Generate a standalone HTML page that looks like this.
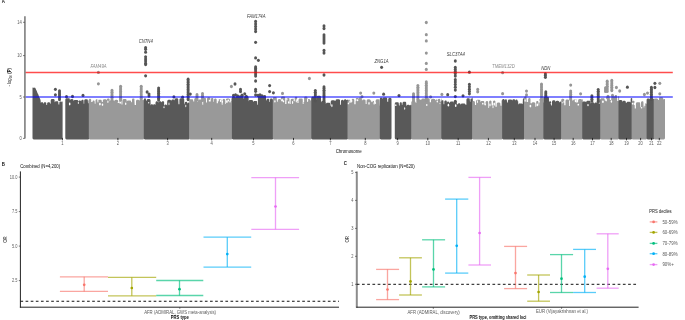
<!DOCTYPE html>
<html><head><meta charset="utf-8"><style>html,body{margin:0;padding:0;background:#fff;overflow:hidden}svg{display:block}</style></head><body>
<svg width="685" height="320" viewBox="0 0 685 320" font-family="Liberation Sans, sans-serif">
<defs><filter id="sb" x="-2%" y="-2%" width="104%" height="104%"><feGaussianBlur stdDeviation="0.32"/></filter></defs>
<rect width="685" height="320" fill="#fff"/>
<path d="M32.5,138.1 L32.5,87.69 L32.9,87.59 L33.3,87.89 L33.7,87.54 L34.1,87.82 L34.5,87.72 L34.9,87.53 L35.3,88.03 L35.7,88.65 L36.1,89.78 L36.5,90.46 L36.9,91.37 L37.3,92.47 L37.7,93.61 L38.1,94.09 L38.5,95.04 L38.9,96.18 L39.3,97.27 L39.7,97.95 L40.1,98.74 L40.5,99.99 L40.9,103.13 L41.2,102.39 L41.5,102.17 L41.8,102.07 L42.1,102.07 L42.4,102.15 L42.7,102.35 L43.0,102.84 L43.0,103.55 L43.5,103.55 L43.5,103.60 L43.8,102.73 L44.1,102.45 L44.4,102.29 L44.7,102.21 L45.0,102.20 L45.3,102.23 L45.6,102.32 L45.9,102.51 L46.2,102.84 L46.4,105.12 L47.1,105.12 L47.1,103.60 L47.4,102.73 L47.7,102.45 L48.0,102.29 L48.3,102.21 L48.6,102.20 L48.9,102.20 L49.2,102.25 L49.5,102.38 L49.8,102.60 L50.1,103.04 L50.2,103.82 L50.7,103.82 L50.7,100.43 L51.0,99.56 L51.3,99.28 L51.6,99.12 L51.9,99.04 L52.2,99.03 L52.5,99.03 L52.8,99.03 L53.1,99.03 L53.4,99.03 L53.7,99.07 L54.0,99.19 L54.3,99.41 L54.6,99.81 L54.7,102.61 L55.0,101.75 L55.3,101.46 L55.6,101.31 L55.9,101.23 L56.2,101.21 L56.5,101.21 L56.8,101.21 L57.1,101.21 L57.4,101.26 L57.7,101.37 L58.0,101.58 L58.3,101.97 L58.5,104.60 L59.3,104.60 L59.3,102.76 L59.6,101.90 L59.9,101.63 L60.2,101.47 L60.5,101.40 L60.8,101.40 L61.1,101.46 L61.4,101.61 L61.7,101.87 L62.0,102.46 L62.0,101.77 L62.3,101.50 L62.6,101.50 L62.6,138.1 Q62.6,139.4 61.3,139.4 L33.8,139.4 Q32.5,139.4 32.5,138.1 Z" fill="#595959"/>
<path d="M65.3,138.1 L65.3,99.59 L65.6,98.73 L65.9,98.44 L66.2,98.29 L66.5,98.21 L66.8,98.19 L67.1,98.19 L67.4,98.19 L67.7,98.19 L68.0,98.19 L68.3,98.19 L68.6,98.20 L68.9,98.25 L69.2,98.37 L69.5,98.60 L69.8,99.04 L69.9,100.51 L70.2,99.65 L70.5,99.36 L70.8,99.21 L71.1,99.13 L71.4,99.11 L71.7,99.11 L72.0,99.11 L72.3,99.12 L72.6,99.19 L72.9,99.33 L73.2,99.59 L73.5,100.15 L73.6,101.28 L73.9,100.42 L74.2,100.13 L74.5,99.97 L74.8,99.90 L75.1,99.88 L75.4,99.88 L75.7,99.88 L76.0,99.88 L76.3,99.88 L76.6,99.88 L76.9,99.89 L77.2,99.94 L77.5,100.07 L77.8,100.31 L78.1,100.78 L78.2,101.90 L78.5,101.04 L78.8,100.75 L79.1,100.60 L79.4,100.52 L79.7,100.50 L80.0,100.51 L80.3,100.57 L80.6,100.71 L80.9,100.95 L81.2,101.45 L81.2,100.95 L81.5,100.15 L81.8,99.90 L82.1,99.77 L82.4,99.73 L82.7,99.76 L83.0,99.87 L83.3,100.09 L83.6,100.60 L83.7,103.65 L84.2,103.65 L84.2,100.56 L84.5,99.69 L84.8,99.41 L85.1,99.25 L85.4,99.17 L85.7,99.16 L86.0,99.16 L86.3,99.16 L86.6,99.16 L86.9,99.20 L87.2,99.31 L87.5,99.51 L87.8,99.89 L88.0,103.31 L88.6,103.31 L88.6,100.66 L88.9,100.26 L89.2,100.29 L89.4,100.29 L89.4,138.1 Q89.4,139.4 88.1,139.4 L66.6,139.4 Q65.3,139.4 65.3,138.1 Z" fill="#595959"/>
<ellipse cx="69.7" cy="103.9" rx="0.80" ry="1.49" fill="#fff"/>
<ellipse cx="78.3" cy="102.9" rx="0.50" ry="1.03" fill="#fff"/>
<path d="M88.8,138.1 L88.8,99.98 L89.1,99.18 L89.4,98.93 L89.7,98.80 L90.0,98.76 L90.3,98.79 L90.6,98.91 L90.9,99.14 L91.2,99.69 L91.2,102.03 L92.5,102.03 L92.5,101.59 L92.8,100.82 L93.1,100.59 L93.4,100.49 L93.7,100.47 L94.0,100.53 L94.3,100.69 L94.6,101.02 L94.8,103.74 L95.5,103.74 L95.5,100.41 L95.8,99.64 L96.1,99.41 L96.4,99.30 L96.7,99.28 L97.0,99.34 L97.3,99.50 L97.6,99.83 L97.7,101.15 L98.0,100.28 L98.3,100.00 L98.6,99.84 L98.9,99.76 L99.2,99.75 L99.5,99.75 L99.8,99.75 L100.1,99.75 L100.4,99.75 L100.7,99.77 L101.0,99.85 L101.3,100.01 L101.6,100.30 L101.9,102.05 L102.8,102.05 L102.8,100.69 L103.1,99.83 L103.4,99.54 L103.7,99.38 L104.0,99.31 L104.3,99.29 L104.6,99.29 L104.9,99.29 L105.2,99.29 L105.5,99.30 L105.8,99.36 L106.1,99.49 L106.4,99.74 L106.7,100.24 L106.8,99.82 L107.1,98.96 L107.4,98.68 L107.7,98.52 L108.0,98.44 L108.3,98.42 L108.6,98.45 L108.9,98.53 L109.2,98.71 L109.5,99.01 L109.7,101.59 L110.0,100.72 L110.3,100.44 L110.6,100.28 L110.9,100.20 L111.2,100.19 L111.5,100.19 L111.8,100.19 L112.1,100.19 L112.4,100.19 L112.7,100.19 L113.0,100.21 L113.3,100.29 L113.6,100.46 L113.9,100.77 L114.2,101.27 L114.5,100.41 L114.8,100.12 L115.1,99.96 L115.4,99.89 L115.7,99.87 L116.0,99.87 L116.3,99.87 L116.6,99.87 L116.9,99.87 L117.2,99.91 L117.5,100.02 L117.8,100.21 L118.1,100.58 L118.3,102.90 L119.3,102.90 L119.3,99.01 L119.6,98.24 L119.9,98.01 L120.2,97.90 L120.5,97.88 L120.8,97.94 L121.1,98.10 L121.4,98.42 L121.6,104.42 L122.4,104.42 L122.4,100.45 L122.7,99.59 L123.0,99.30 L123.3,99.14 L123.6,99.07 L123.9,99.05 L124.2,99.05 L124.5,99.05 L124.8,99.05 L125.1,99.05 L125.4,99.05 L125.7,99.08 L126.0,99.19 L126.3,99.38 L126.6,99.73 L126.8,101.87 L127.1,101.01 L127.4,100.73 L127.7,100.57 L128.0,100.49 L128.3,100.47 L128.6,100.47 L128.9,100.47 L129.2,100.47 L129.5,100.47 L129.8,100.47 L130.1,100.49 L130.4,100.58 L130.7,100.74 L131.0,101.04 L131.3,102.32 L132.0,102.32 L132.0,99.70 L132.3,98.86 L132.6,98.59 L132.9,98.44 L133.2,98.38 L133.5,98.38 L133.8,98.46 L134.1,98.62 L134.4,98.92 L134.7,105.08 L136.0,105.08 L136.0,101.03 L136.3,100.16 L136.6,99.88 L136.9,99.72 L137.2,99.64 L137.5,99.63 L137.8,99.63 L138.1,99.64 L138.4,99.72 L138.7,99.88 L139.0,100.16 L139.3,100.94 L139.3,100.85 L139.6,100.05 L139.9,99.81 L140.2,99.69 L140.5,99.65 L140.8,99.69 L141.1,99.81 L141.4,100.06 L141.7,101.23 L142.0,100.39 L142.3,100.12 L142.6,99.97 L142.9,99.91 L143.2,99.91 L143.5,99.99 L143.8,100.15 L144.1,100.45 L144.3,100.45 L144.3,138.1 Q144.3,139.4 143.0,139.4 L90.1,139.4 Q88.8,139.4 88.8,138.1 Z" fill="#999999"/>
<ellipse cx="97.9" cy="101.1" rx="0.52" ry="1.51" fill="#fff"/>
<ellipse cx="99.9" cy="104.1" rx="0.89" ry="1.29" fill="#fff"/>
<ellipse cx="102.5" cy="104.7" rx="0.74" ry="1.17" fill="#fff"/>
<ellipse cx="107.9" cy="101.8" rx="0.56" ry="1.23" fill="#fff"/>
<ellipse cx="118.2" cy="102.4" rx="0.53" ry="0.70" fill="#fff"/>
<ellipse cx="120.2" cy="102.6" rx="0.78" ry="1.20" fill="#fff"/>
<ellipse cx="125.7" cy="103.8" rx="0.68" ry="1.21" fill="#fff"/>
<path d="M143.8,138.1 L143.8,99.54 L144.1,98.76 L144.4,98.51 L144.7,98.40 L145.0,98.36 L145.3,98.40 L145.6,98.54 L145.9,98.80 L146.1,100.72 L146.6,100.72 L146.6,100.44 L146.9,99.58 L147.2,99.29 L147.5,99.13 L147.8,99.06 L148.1,99.04 L148.4,99.04 L148.7,99.04 L149.0,99.04 L149.3,99.05 L149.6,99.10 L149.9,99.23 L150.2,99.45 L150.5,99.90 L150.6,105.43 L150.9,104.63 L151.2,104.37 L151.5,104.25 L151.8,104.20 L152.1,104.23 L152.4,104.34 L152.7,104.56 L153.0,105.04 L153.1,105.41 L153.4,104.62 L153.7,104.37 L154.0,104.24 L154.3,104.20 L154.6,104.23 L154.9,104.35 L155.2,104.58 L155.5,105.15 L155.5,102.63 L155.8,101.79 L156.1,101.52 L156.4,101.37 L156.7,101.31 L157.0,101.31 L157.3,101.39 L157.6,101.55 L157.9,101.84 L158.2,102.70 L158.5,101.83 L158.8,101.55 L159.1,101.39 L159.4,101.31 L159.7,101.30 L160.0,101.30 L160.3,101.30 L160.6,101.34 L160.9,101.45 L161.2,101.66 L161.5,102.05 L161.7,102.38 L162.0,101.57 L162.3,101.31 L162.6,101.18 L162.9,101.14 L163.2,101.16 L163.5,101.27 L163.8,101.48 L164.1,101.93 L164.1,106.01 L164.4,105.14 L164.7,104.86 L165.0,104.70 L165.3,104.62 L165.6,104.61 L165.9,104.62 L166.2,104.69 L166.5,104.84 L166.8,105.12 L167.1,105.79 L167.2,101.25 L167.5,100.39 L167.8,100.10 L168.1,99.94 L168.4,99.87 L168.7,99.85 L169.0,99.85 L169.3,99.85 L169.6,99.85 L169.9,99.85 L170.2,99.87 L170.5,99.96 L170.8,100.13 L171.1,100.43 L171.3,100.80 L171.6,99.93 L171.9,99.65 L172.2,99.49 L172.5,99.41 L172.8,99.40 L173.1,99.40 L173.4,99.41 L173.7,99.48 L174.0,99.64 L174.3,99.91 L174.6,100.56 L174.6,99.73 L174.9,98.86 L175.2,98.58 L175.5,98.42 L175.8,98.34 L176.1,98.33 L176.4,98.33 L176.7,98.33 L177.0,98.33 L177.3,98.35 L177.6,98.43 L177.9,98.60 L178.2,98.90 L178.5,104.17 L179.4,104.17 L179.4,99.70 L179.7,98.83 L180.0,98.55 L180.3,98.39 L180.6,98.31 L180.9,98.30 L181.2,98.30 L181.5,98.30 L181.8,98.30 L182.1,98.30 L182.4,98.30 L182.7,98.30 L183.0,98.30 L183.3,98.35 L183.6,98.48 L183.9,98.71 L184.2,99.14 L184.3,104.14 L184.7,104.14 L184.7,103.20 L185.0,102.33 L185.3,102.05 L185.6,101.89 L185.9,101.81 L186.2,101.80 L186.5,101.86 L186.8,101.98 L187.1,102.21 L187.4,102.65 L187.6,103.69 L187.9,102.92 L188.2,102.69 L188.5,102.59 L188.8,102.57 L189.1,102.63 L189.4,102.79 L189.7,103.14 L189.8,103.14 L189.8,138.1 Q189.8,139.4 188.5,139.4 L145.1,139.4 Q143.8,139.4 143.8,138.1 Z" fill="#595959"/>
<ellipse cx="148.7" cy="102.7" rx="0.64" ry="0.77" fill="#fff"/>
<ellipse cx="164.0" cy="107.3" rx="0.59" ry="0.97" fill="#fff"/>
<ellipse cx="169.0" cy="103.9" rx="0.46" ry="1.36" fill="#fff"/>
<ellipse cx="185.8" cy="106.0" rx="0.48" ry="1.37" fill="#fff"/>
<path d="M189.2,138.1 L189.2,100.64 L189.5,99.77 L189.8,99.49 L190.1,99.33 L190.4,99.25 L190.7,99.24 L191.0,99.24 L191.3,99.24 L191.6,99.24 L191.9,99.24 L192.2,99.26 L192.5,99.36 L192.8,99.54 L193.1,99.86 L193.3,101.39 L194.2,101.39 L194.2,99.49 L194.5,98.62 L194.8,98.34 L195.1,98.18 L195.4,98.10 L195.7,98.09 L196.0,98.12 L196.3,98.23 L196.6,98.44 L196.9,98.81 L197.0,101.48 L198.0,101.48 L198.0,100.92 L198.3,100.06 L198.6,99.77 L198.9,99.62 L199.2,99.54 L199.5,99.52 L199.8,99.52 L200.1,99.52 L200.4,99.52 L200.7,99.52 L201.0,99.52 L201.3,99.55 L201.6,99.65 L201.9,99.84 L202.2,100.18 L202.4,104.65 L203.2,104.65 L203.2,99.20 L203.5,98.33 L203.8,98.05 L204.1,97.89 L204.4,97.81 L204.7,97.80 L205.0,97.83 L205.3,97.93 L205.6,98.12 L205.9,98.46 L206.1,102.44 L207.0,102.44 L207.0,98.76 L207.3,97.90 L207.6,97.61 L207.9,97.46 L208.2,97.38 L208.5,97.36 L208.8,97.36 L209.1,97.37 L209.4,97.43 L209.7,97.58 L210.0,97.83 L210.3,98.37 L210.4,101.49 L211.0,101.49 L211.0,99.12 L211.3,98.33 L211.6,98.08 L211.9,97.96 L212.2,97.92 L212.5,97.96 L212.8,98.08 L213.1,98.32 L213.4,99.00 L213.4,101.67 L214.0,101.67 L214.0,99.81 L214.3,98.95 L214.6,98.68 L214.9,98.52 L215.2,98.45 L215.5,98.45 L215.8,98.51 L216.1,98.65 L216.4,98.91 L216.7,99.50 L216.7,103.26 L217.9,103.26 L217.9,100.66 L218.2,99.80 L218.5,99.51 L218.8,99.35 L219.1,99.28 L219.4,99.26 L219.7,99.26 L220.0,99.26 L220.3,99.26 L220.6,99.28 L220.9,99.38 L221.2,99.55 L221.5,99.87 L221.8,104.73 L222.6,104.73 L222.6,100.10 L222.9,99.28 L223.2,99.02 L223.5,98.88 L223.8,98.83 L224.1,98.85 L224.4,98.94 L224.7,99.13 L225.0,99.51 L225.2,104.06 L225.8,104.06 L225.8,99.96 L226.1,99.09 L226.4,98.81 L226.7,98.65 L227.0,98.57 L227.3,98.56 L227.6,98.56 L227.9,98.56 L228.2,98.56 L228.5,98.56 L228.8,98.56 L229.1,98.63 L229.4,98.77 L229.7,99.03 L230.0,99.58 L230.1,100.93 L231.3,100.93 L231.3,98.80 L231.6,98.29 L231.9,98.21 L232.2,98.30 L232.5,98.30 L232.5,138.1 Q232.5,139.4 231.2,139.4 L190.5,139.4 Q189.2,139.4 189.2,138.1 Z" fill="#999999"/>
<ellipse cx="197.0" cy="100.2" rx="0.61" ry="0.79" fill="#fff"/>
<ellipse cx="209.5" cy="100.7" rx="0.78" ry="0.88" fill="#fff"/>
<ellipse cx="218.2" cy="100.2" rx="0.56" ry="1.37" fill="#fff"/>
<ellipse cx="220.6" cy="100.7" rx="0.75" ry="1.32" fill="#fff"/>
<ellipse cx="222.4" cy="101.8" rx="0.66" ry="1.12" fill="#fff"/>
<ellipse cx="226.9" cy="101.5" rx="0.82" ry="1.57" fill="#fff"/>
<ellipse cx="228.4" cy="100.5" rx="0.88" ry="0.89" fill="#fff"/>
<ellipse cx="230.1" cy="101.8" rx="0.88" ry="0.82" fill="#fff"/>
<path d="M231.9,138.1 L231.9,97.83 L232.2,96.96 L232.5,96.68 L232.8,96.52 L233.1,96.44 L233.4,96.43 L233.7,96.43 L234.0,96.43 L234.3,96.46 L234.6,96.55 L234.9,96.73 L235.2,97.07 L235.4,97.85 L235.7,97.00 L236.0,96.73 L236.3,96.58 L236.6,96.51 L236.9,96.51 L237.2,96.58 L237.5,96.73 L237.8,97.01 L238.1,96.35 L238.4,95.62 L238.7,95.41 L239.0,95.32 L239.3,95.32 L239.6,95.42 L239.9,95.64 L240.2,96.23 L240.5,95.37 L240.8,95.08 L241.1,94.93 L241.4,94.85 L241.7,94.83 L242.0,94.83 L242.3,94.84 L242.6,94.91 L242.9,95.05 L243.2,95.30 L243.5,95.85 L243.5,98.45 L244.1,98.45 L244.1,97.40 L244.4,96.53 L244.7,96.25 L245.0,96.09 L245.3,96.01 L245.6,96.00 L245.9,96.00 L246.2,96.00 L246.5,96.00 L246.8,96.00 L247.1,96.00 L247.4,96.01 L247.7,96.08 L248.0,96.24 L248.3,96.51 L248.6,97.16 L248.6,101.40 L248.9,100.53 L249.2,100.25 L249.5,100.09 L249.8,100.01 L250.1,100.00 L250.4,100.00 L250.7,100.00 L251.0,100.00 L251.3,100.00 L251.6,100.00 L251.9,100.01 L252.2,100.09 L252.5,100.24 L252.8,100.51 L253.1,101.18 L253.2,102.36 L253.5,101.50 L253.8,101.21 L254.1,101.06 L254.4,100.98 L254.7,100.96 L255.0,100.96 L255.3,100.96 L255.6,100.96 L255.9,100.96 L256.2,100.99 L256.5,101.08 L256.8,101.26 L257.1,101.58 L257.3,104.68 L257.9,104.68 L257.9,97.18 L258.2,96.31 L258.5,96.03 L258.8,95.87 L259.1,95.79 L259.4,95.78 L259.7,95.78 L260.0,95.78 L260.3,95.78 L260.6,95.78 L260.9,95.78 L261.2,95.78 L261.5,95.78 L261.8,95.81 L262.1,95.91 L262.4,96.11 L262.7,96.46 L262.9,96.64 L263.2,95.77 L263.5,95.49 L263.8,95.33 L264.1,95.25 L264.4,95.24 L264.7,95.24 L265.0,95.25 L265.3,95.34 L265.6,95.50 L265.9,95.79 L266.2,100.60 L266.6,100.60 L266.6,100.08 L266.9,99.22 L267.2,98.93 L267.5,98.78 L267.8,98.70 L268.1,98.68 L268.4,98.73 L268.7,98.84 L269.0,99.05 L269.3,99.44 L269.5,102.03 L270.0,102.03 L270.0,99.66 L270.3,98.84 L270.6,98.58 L270.9,98.44 L271.2,98.38 L271.5,98.40 L271.8,98.49 L272.1,98.67 L272.4,99.03 L272.6,99.54 L272.9,99.14 L273.2,99.17 L273.4,99.17 L273.4,138.1 Q273.4,139.4 272.1,139.4 L233.2,139.4 Q231.9,139.4 231.9,138.1 Z" fill="#595959"/>
<path d="M272.8,138.1 L272.8,98.40 L273.1,97.54 L273.4,97.26 L273.7,97.10 L274.0,97.02 L274.3,97.00 L274.6,97.00 L274.9,97.00 L275.2,97.00 L275.5,97.00 L275.8,97.02 L276.1,97.10 L276.4,97.27 L276.7,97.56 L277.0,101.70 L277.8,101.70 L277.8,100.47 L278.1,99.61 L278.4,99.32 L278.7,99.16 L279.0,99.09 L279.3,99.07 L279.6,99.07 L279.9,99.10 L280.2,99.19 L280.5,99.38 L280.8,99.71 L281.0,97.86 L281.3,97.00 L281.6,96.71 L281.9,96.55 L282.2,96.48 L282.5,96.46 L282.8,96.46 L283.1,96.46 L283.4,96.46 L283.7,96.46 L284.0,96.47 L284.3,96.55 L284.6,96.71 L284.9,96.99 L285.2,97.71 L285.2,103.93 L286.4,103.93 L286.4,99.44 L286.7,98.58 L287.0,98.30 L287.3,98.14 L287.6,98.06 L287.9,98.04 L288.2,98.04 L288.5,98.06 L288.8,98.14 L289.1,98.30 L289.4,98.59 L289.7,104.07 L290.6,104.07 L290.6,100.20 L290.9,99.33 L291.2,99.05 L291.5,98.89 L291.8,98.81 L292.1,98.80 L292.4,98.80 L292.7,98.80 L293.0,98.80 L293.3,98.80 L293.6,98.83 L293.9,98.93 L294.2,99.12 L294.5,99.48 L294.7,98.09 L295.0,97.23 L295.3,96.95 L295.6,96.79 L295.9,96.72 L296.2,96.71 L296.5,96.77 L296.8,96.90 L297.1,97.15 L297.4,97.65 L297.5,102.97 L298.5,102.97 L298.5,99.82 L298.8,98.95 L299.1,98.67 L299.4,98.51 L299.7,98.44 L300.0,98.42 L300.3,98.42 L300.6,98.42 L300.9,98.42 L301.2,98.42 L301.5,98.42 L301.8,98.46 L302.1,98.57 L302.4,98.78 L302.7,99.16 L302.8,101.96 L304.1,101.96 L304.1,97.91 L304.4,97.04 L304.7,96.76 L305.0,96.60 L305.3,96.53 L305.6,96.51 L305.9,96.51 L306.2,96.51 L306.5,96.55 L306.8,96.66 L307.1,96.87 L307.4,97.24 L307.5,100.34 L307.8,99.49 L308.1,99.21 L308.4,99.06 L308.7,98.99 L309.0,98.98 L309.3,99.05 L309.6,99.19 L309.9,99.45 L310.2,100.04 L310.3,100.48 L311.1,100.48 L311.1,98.58 L311.4,98.19 L311.7,98.23 L311.9,98.23 L311.9,138.1 Q311.9,139.4 310.6,139.4 L274.1,139.4 Q272.8,139.4 272.8,138.1 Z" fill="#999999"/>
<ellipse cx="274.9" cy="101.4" rx="0.71" ry="1.05" fill="#fff"/>
<ellipse cx="282.1" cy="100.2" rx="0.88" ry="1.33" fill="#fff"/>
<ellipse cx="283.5" cy="101.3" rx="0.75" ry="1.08" fill="#fff"/>
<ellipse cx="286.9" cy="99.3" rx="0.60" ry="1.08" fill="#fff"/>
<ellipse cx="288.7" cy="102.5" rx="0.78" ry="1.15" fill="#fff"/>
<ellipse cx="292.6" cy="102.4" rx="0.58" ry="1.56" fill="#fff"/>
<ellipse cx="294.2" cy="100.1" rx="0.64" ry="1.30" fill="#fff"/>
<ellipse cx="296.3" cy="100.9" rx="0.55" ry="1.58" fill="#fff"/>
<ellipse cx="297.5" cy="99.5" rx="0.63" ry="1.51" fill="#fff"/>
<ellipse cx="303.2" cy="103.1" rx="0.79" ry="0.73" fill="#fff"/>
<ellipse cx="307.6" cy="100.4" rx="0.61" ry="1.56" fill="#fff"/>
<path d="M311.3,138.1 L311.3,97.94 L311.6,97.07 L311.9,96.79 L312.2,96.63 L312.5,96.55 L312.8,96.54 L313.1,96.54 L313.4,96.54 L313.7,96.54 L314.0,96.54 L314.3,96.54 L314.6,96.56 L314.9,96.64 L315.2,96.81 L315.5,97.12 L315.8,99.82 L316.4,99.82 L316.4,97.20 L316.7,96.34 L317.0,96.05 L317.3,95.89 L317.6,95.82 L317.9,95.80 L318.2,95.80 L318.5,95.80 L318.8,95.80 L319.1,95.80 L319.4,95.80 L319.7,95.80 L320.0,95.82 L320.3,95.91 L320.6,96.08 L320.9,96.39 L321.2,102.40 L321.5,101.53 L321.8,101.25 L322.1,101.09 L322.4,101.01 L322.7,101.00 L323.0,101.00 L323.3,101.00 L323.6,101.00 L323.9,101.00 L324.2,101.00 L324.5,101.00 L324.8,101.03 L325.1,101.14 L325.4,101.34 L325.7,101.69 L325.9,104.04 L326.2,103.17 L326.5,102.89 L326.8,102.73 L327.1,102.65 L327.4,102.64 L327.7,102.64 L328.0,102.64 L328.3,102.64 L328.6,102.64 L328.9,102.64 L329.2,102.67 L329.5,102.76 L329.8,102.94 L330.1,103.26 L330.3,105.69 L330.7,105.69 L330.7,101.76 L331.0,100.89 L331.3,100.61 L331.6,100.45 L331.9,100.37 L332.2,100.36 L332.5,100.36 L332.8,100.36 L333.1,100.36 L333.4,100.36 L333.7,100.36 L334.0,100.36 L334.3,100.38 L334.6,100.47 L334.9,100.64 L335.2,100.94 L335.5,100.70 L335.8,99.83 L336.1,99.55 L336.4,99.39 L336.7,99.31 L337.0,99.30 L337.3,99.30 L337.6,99.30 L337.9,99.30 L338.2,99.30 L338.5,99.30 L338.8,99.30 L339.1,99.33 L339.4,99.44 L339.7,99.63 L340.0,99.99 L340.2,104.65 L341.0,104.65 L341.0,101.21 L341.3,100.35 L341.6,100.07 L341.9,99.91 L342.2,99.83 L342.5,99.82 L342.8,99.88 L343.1,100.01 L343.4,100.25 L343.7,100.73 L343.8,100.70 L344.1,99.83 L344.4,99.55 L344.7,99.39 L345.0,99.31 L345.3,99.30 L345.6,99.35 L345.9,99.47 L346.2,99.69 L346.5,100.12 L346.7,100.34 L347.0,99.76 L347.3,99.63 L347.6,99.64 L347.9,99.80 L348.1,99.80 L348.1,138.1 Q348.1,139.4 346.8,139.4 L312.6,139.4 Q311.3,139.4 311.3,138.1 Z" fill="#595959"/>
<ellipse cx="331.9" cy="105.6" rx="0.60" ry="1.58" fill="#fff"/>
<path d="M347.5,138.1 L347.5,101.09 L347.8,100.22 L348.1,99.94 L348.4,99.78 L348.7,99.70 L349.0,99.69 L349.3,99.73 L349.6,99.83 L349.9,100.04 L350.2,100.41 L350.4,102.50 L351.6,102.50 L351.6,100.17 L351.9,99.31 L352.2,99.03 L352.5,98.87 L352.8,98.80 L353.1,98.79 L353.4,98.85 L353.7,98.99 L354.0,99.23 L354.3,99.74 L354.3,104.20 L355.6,104.20 L355.6,99.31 L355.9,98.44 L356.2,98.16 L356.5,98.00 L356.8,97.92 L357.1,97.91 L357.4,97.93 L357.7,98.02 L358.0,98.20 L358.3,98.51 L358.6,98.85 L358.9,97.98 L359.2,97.70 L359.5,97.54 L359.8,97.46 L360.1,97.45 L360.4,97.45 L360.7,97.45 L361.0,97.52 L361.3,97.66 L361.6,97.90 L361.9,98.42 L362.0,100.97 L362.3,100.11 L362.6,99.83 L362.9,99.67 L363.2,99.59 L363.5,99.57 L363.8,99.57 L364.1,99.57 L364.4,99.58 L364.7,99.63 L365.0,99.76 L365.3,99.99 L365.6,100.45 L365.7,103.99 L366.6,103.99 L366.6,100.76 L366.9,99.89 L367.2,99.61 L367.5,99.45 L367.8,99.37 L368.1,99.36 L368.4,99.36 L368.7,99.36 L369.0,99.36 L369.3,99.36 L369.6,99.39 L369.9,99.48 L370.2,99.66 L370.5,99.99 L370.8,100.84 L371.6,100.84 L371.6,102.14 L371.9,101.31 L372.2,101.04 L372.5,100.89 L372.8,100.83 L373.1,100.84 L373.4,100.92 L373.7,101.08 L374.0,101.39 L374.2,103.28 L375.6,103.28 L375.6,100.76 L375.9,99.89 L376.2,99.61 L376.5,99.45 L376.8,99.37 L377.1,99.36 L377.4,99.36 L377.7,99.36 L378.0,99.36 L378.3,99.36 L378.6,99.37 L378.9,99.45 L379.2,99.61 L379.5,99.90 L379.8,105.86 L381.0,105.86 L380.4,105.86 L380.4,138.1 Q380.4,139.4 379.1,139.4 L348.8,139.4 Q347.5,139.4 347.5,138.1 Z" fill="#999999"/>
<ellipse cx="348.5" cy="103.4" rx="0.73" ry="0.90" fill="#fff"/>
<ellipse cx="349.9" cy="101.8" rx="0.56" ry="1.24" fill="#fff"/>
<ellipse cx="351.7" cy="100.9" rx="0.60" ry="1.31" fill="#fff"/>
<ellipse cx="355.8" cy="100.0" rx="0.63" ry="1.20" fill="#fff"/>
<ellipse cx="357.6" cy="100.3" rx="0.76" ry="1.07" fill="#fff"/>
<ellipse cx="369.0" cy="103.4" rx="0.64" ry="1.44" fill="#fff"/>
<ellipse cx="372.0" cy="101.0" rx="0.70" ry="1.28" fill="#fff"/>
<ellipse cx="374.1" cy="103.5" rx="0.62" ry="1.15" fill="#fff"/>
<ellipse cx="375.3" cy="103.1" rx="0.87" ry="0.80" fill="#fff"/>
<path d="M379.8,138.1 L379.8,98.90 L380.1,98.07 L380.4,97.81 L380.7,97.67 L381.0,97.61 L381.3,97.62 L381.6,97.71 L381.9,97.88 L382.2,98.22 L382.4,98.96 L382.7,98.10 L383.0,97.81 L383.3,97.65 L383.6,97.58 L383.9,97.56 L384.2,97.56 L384.5,97.56 L384.8,97.56 L385.1,97.56 L385.4,97.56 L385.7,97.56 L386.0,97.56 L386.3,97.61 L386.6,97.74 L386.9,97.96 L387.2,98.38 L387.3,101.66 L388.2,101.66 L388.2,99.25 L388.5,98.39 L388.8,98.10 L389.1,97.94 L389.4,97.87 L389.7,97.85 L390.0,97.85 L390.3,97.86 L390.6,97.94 L390.9,98.09 L391.2,98.36 L391.5,99.03 L391.5,99.03 L391.5,138.1 Q391.5,139.4 390.2,139.4 L381.1,139.4 Q379.8,139.4 379.8,138.1 Z" fill="#595959"/>
<path d="M394.8,138.1 L394.8,103.55 L395.1,102.69 L395.4,102.40 L395.7,102.25 L396.0,102.17 L396.3,102.15 L396.6,102.15 L396.9,102.15 L397.2,102.15 L397.5,102.15 L397.8,102.17 L398.1,102.26 L398.4,102.42 L398.7,102.72 L399.0,105.47 L399.7,105.47 L399.7,103.26 L400.0,102.52 L400.3,102.30 L400.6,102.21 L400.9,102.21 L401.2,102.30 L401.5,102.50 L401.8,103.08 L401.8,104.85 L402.5,104.85 L402.5,103.13 L402.8,102.27 L403.1,101.99 L403.4,101.83 L403.7,101.75 L404.0,101.73 L404.3,101.73 L404.6,101.73 L404.9,101.73 L405.2,101.75 L405.5,101.83 L405.8,102.00 L406.1,102.29 L406.4,106.26 L406.7,105.39 L407.0,105.11 L407.3,104.95 L407.6,104.87 L407.9,104.86 L408.2,104.86 L408.5,104.86 L408.8,104.86 L409.1,104.90 L409.4,105.02 L409.7,105.23 L410.0,105.63 L410.1,105.61 L410.4,104.94 L410.7,104.76 L411.0,104.71 L411.3,104.76 L411.6,104.94 L411.9,105.57 L411.9,105.57 L411.9,138.1 Q411.9,139.4 410.6,139.4 L396.1,139.4 Q394.8,139.4 394.8,138.1 Z" fill="#595959"/>
<ellipse cx="395.8" cy="105.2" rx="0.67" ry="0.91" fill="#fff"/>
<ellipse cx="404.7" cy="108.5" rx="0.49" ry="1.36" fill="#fff"/>
<path d="M411.3,138.1 L411.3,102.29 L411.6,101.42 L411.9,101.14 L412.2,100.98 L412.5,100.90 L412.8,100.89 L413.1,100.89 L413.4,100.89 L413.7,100.89 L414.0,100.89 L414.3,100.91 L414.6,100.99 L414.9,101.16 L415.2,101.46 L415.5,102.47 L416.7,102.47 L416.7,100.88 L417.0,100.01 L417.3,99.73 L417.6,99.57 L417.9,99.49 L418.2,99.48 L418.5,99.48 L418.8,99.48 L419.1,99.48 L419.4,99.48 L419.7,99.48 L420.0,99.50 L420.3,99.59 L420.6,99.76 L420.9,100.07 L421.2,99.96 L421.5,99.10 L421.8,98.81 L422.1,98.65 L422.4,98.58 L422.7,98.56 L423.0,98.56 L423.3,98.56 L423.6,98.56 L423.9,98.56 L424.2,98.57 L424.5,98.62 L424.8,98.75 L425.1,98.98 L425.4,99.43 L425.5,99.68 L425.8,98.82 L426.1,98.53 L426.4,98.38 L426.7,98.30 L427.0,98.28 L427.3,98.28 L427.6,98.28 L427.9,98.28 L428.2,98.28 L428.5,98.28 L428.8,98.33 L429.1,98.45 L429.4,98.66 L429.7,99.07 L429.8,102.31 L431.0,102.31 L431.0,100.27 L431.3,99.40 L431.6,99.12 L431.9,98.96 L432.2,98.88 L432.5,98.87 L432.8,98.87 L433.1,98.87 L433.4,98.87 L433.7,98.87 L434.0,98.88 L434.3,98.94 L434.6,99.08 L434.9,99.33 L435.2,99.86 L435.3,100.77 L435.6,99.95 L435.9,99.70 L436.2,99.56 L436.5,99.51 L436.8,99.53 L437.1,99.62 L437.4,99.82 L437.7,100.21 L437.8,100.18 L438.1,99.33 L438.4,99.06 L438.7,98.91 L439.0,98.84 L439.3,98.85 L439.6,98.92 L439.9,99.07 L440.2,99.36 L440.5,101.77 L441.4,101.77 L441.4,98.72 L441.7,98.55 L441.9,98.55 L441.9,138.1 Q441.9,139.4 440.6,139.4 L412.6,139.4 Q411.3,139.4 411.3,138.1 Z" fill="#999999"/>
<ellipse cx="426.8" cy="105.1" rx="0.71" ry="1.02" fill="#fff"/>
<ellipse cx="437.3" cy="101.5" rx="0.73" ry="1.09" fill="#fff"/>
<ellipse cx="440.0" cy="103.6" rx="0.46" ry="0.70" fill="#fff"/>
<path d="M441.3,138.1 L441.3,101.32 L441.6,100.54 L441.9,100.30 L442.2,100.19 L442.5,100.16 L442.8,100.21 L443.1,100.35 L443.4,100.64 L443.6,104.27 L444.3,104.27 L444.3,101.76 L444.6,100.93 L444.9,100.66 L445.2,100.52 L445.5,100.46 L445.8,100.47 L446.1,100.55 L446.4,100.72 L446.7,101.05 L446.9,102.70 L447.2,101.91 L447.5,101.66 L447.8,101.54 L448.1,101.50 L448.4,101.54 L448.7,101.66 L449.0,101.90 L449.3,102.60 L449.3,102.79 L449.8,102.79 L449.8,102.90 L450.1,102.03 L450.4,101.75 L450.7,101.59 L451.0,101.51 L451.3,101.50 L451.6,101.50 L451.9,101.50 L452.2,101.50 L452.5,101.51 L452.8,101.59 L453.1,101.74 L453.4,102.02 L453.7,102.70 L453.7,102.33 L454.0,101.47 L454.3,101.19 L454.6,101.03 L454.9,100.95 L455.2,100.93 L455.5,100.93 L455.8,100.97 L456.1,101.07 L456.4,101.26 L456.7,101.60 L456.9,104.19 L457.6,104.19 L457.6,104.68 L457.9,103.82 L458.2,103.53 L458.5,103.38 L458.8,103.30 L459.1,103.28 L459.4,103.29 L459.7,103.36 L460.0,103.50 L460.3,103.76 L460.6,104.31 L460.7,104.90 L461.0,104.03 L461.3,103.75 L461.6,103.59 L461.9,103.51 L462.2,103.50 L462.5,103.50 L462.8,103.50 L463.1,103.50 L463.4,103.50 L463.7,103.50 L464.0,103.50 L464.3,103.51 L464.6,103.59 L464.9,103.74 L465.2,104.02 L465.5,104.72 L465.5,104.63 L466.4,104.63 L466.4,99.67 L466.7,98.81 L467.0,98.53 L467.3,98.37 L467.6,98.29 L467.9,98.27 L468.2,98.27 L468.5,98.27 L468.8,98.29 L469.1,98.37 L469.4,98.53 L469.7,98.82 L470.0,101.84 L470.4,101.84 L470.4,99.42 L470.7,98.69 L471.0,98.49 L471.3,98.40 L471.6,98.41 L471.9,98.52 L472.2,98.76 L472.4,97.61 L472.7,97.56 L472.8,97.56 L472.8,138.1 Q472.8,139.4 471.5,139.4 L442.6,139.4 Q441.3,139.4 441.3,138.1 Z" fill="#595959"/>
<ellipse cx="448.4" cy="105.2" rx="0.80" ry="1.34" fill="#fff"/>
<ellipse cx="455.7" cy="105.7" rx="0.79" ry="1.33" fill="#fff"/>
<path d="M472.2,138.1 L472.2,102.42 L472.5,101.56 L472.8,101.28 L473.1,101.13 L473.4,101.05 L473.7,101.05 L474.0,101.11 L474.3,101.25 L474.6,101.50 L474.9,102.05 L475.0,104.99 L476.1,104.99 L476.1,101.21 L476.4,100.35 L476.7,100.07 L477.0,99.91 L477.3,99.83 L477.6,99.81 L477.9,99.81 L478.2,99.81 L478.5,99.81 L478.8,99.81 L479.1,99.81 L479.4,99.84 L479.7,99.93 L480.0,100.10 L480.3,100.41 L480.6,102.30 L480.9,101.44 L481.2,101.15 L481.5,100.99 L481.8,100.92 L482.1,100.90 L482.4,100.90 L482.7,100.90 L483.0,100.90 L483.3,100.93 L483.6,101.03 L483.9,101.22 L484.2,101.57 L484.4,104.57 L485.5,104.57 L485.5,102.49 L485.8,101.63 L486.1,101.34 L486.4,101.19 L486.7,101.11 L487.0,101.09 L487.3,101.12 L487.6,101.22 L487.9,101.41 L488.2,101.76 L488.4,108.10 L489.1,108.10 L489.1,101.84 L489.4,101.02 L489.7,100.76 L490.0,100.63 L490.3,100.58 L490.6,100.60 L490.9,100.69 L491.2,100.89 L491.5,101.28 L491.6,105.55 L493.0,105.55 L493.0,101.84 L493.3,101.03 L493.6,100.77 L493.9,100.63 L494.2,100.58 L494.5,100.60 L494.8,100.70 L495.1,100.90 L495.4,101.29 L495.5,106.85 L496.7,106.85 L496.7,103.96 L497.0,103.10 L497.3,102.81 L497.6,102.66 L497.9,102.58 L498.2,102.56 L498.5,102.56 L498.8,102.56 L499.1,102.56 L499.4,102.59 L499.7,102.70 L500.0,102.89 L500.3,103.24 L500.5,105.64 L501.5,105.64 L501.5,100.67 L501.8,100.17 L502.1,100.10 L502.4,100.19 L502.7,100.19 L502.7,138.1 Q502.7,139.4 501.4,139.4 L473.5,139.4 Q472.2,139.4 472.2,138.1 Z" fill="#999999"/>
<ellipse cx="477.5" cy="101.8" rx="0.47" ry="1.46" fill="#fff"/>
<ellipse cx="482.8" cy="103.7" rx="0.79" ry="0.88" fill="#fff"/>
<ellipse cx="485.2" cy="104.5" rx="0.77" ry="1.03" fill="#fff"/>
<ellipse cx="490.0" cy="105.0" rx="0.65" ry="1.40" fill="#fff"/>
<ellipse cx="493.0" cy="106.9" rx="0.49" ry="1.44" fill="#fff"/>
<ellipse cx="494.2" cy="104.1" rx="0.79" ry="1.58" fill="#fff"/>
<path d="M502.1,138.1 L502.1,100.30 L502.4,99.46 L502.7,99.19 L503.0,99.05 L503.3,98.98 L503.6,98.99 L503.9,99.07 L504.2,99.23 L504.5,99.54 L504.7,100.47 L505.0,99.69 L505.3,99.45 L505.6,99.34 L505.9,99.31 L506.2,99.36 L506.5,99.49 L506.8,99.78 L507.1,102.59 L507.9,102.59 L507.9,100.90 L508.2,100.03 L508.5,99.75 L508.8,99.59 L509.1,99.51 L509.4,99.50 L509.7,99.50 L510.0,99.50 L510.3,99.50 L510.6,99.50 L510.9,99.50 L511.2,99.54 L511.5,99.65 L511.8,99.86 L512.1,100.25 L512.2,100.65 L512.5,99.78 L512.8,99.50 L513.1,99.34 L513.4,99.26 L513.7,99.25 L514.0,99.25 L514.3,99.28 L514.6,99.38 L514.9,99.57 L515.2,99.92 L515.4,100.63 L515.7,99.86 L516.0,99.63 L516.3,99.52 L516.6,99.50 L516.9,99.56 L517.2,99.72 L517.5,100.05 L517.7,101.29 L518.2,101.29 L518.2,104.90 L518.5,104.03 L518.8,103.75 L519.1,103.59 L519.4,103.51 L519.7,103.50 L520.0,103.50 L520.3,103.50 L520.6,103.50 L520.9,103.50 L521.2,103.50 L521.5,103.50 L521.8,103.53 L522.1,103.63 L522.4,103.82 L522.7,104.17 L522.9,99.26 L523.2,98.59 L523.5,98.41 L523.8,98.36 L524.1,98.41 L524.4,98.59 L524.7,99.20 L524.7,99.20 L524.7,138.1 Q524.7,139.4 523.4,139.4 L503.4,139.4 Q502.1,139.4 502.1,138.1 Z" fill="#595959"/>
<path d="M524.1,138.1 L524.1,97.50 L524.4,96.68 L524.7,96.42 L525.0,96.28 L525.3,96.22 L525.6,96.24 L525.9,96.33 L526.2,96.51 L526.5,96.86 L526.7,102.08 L528.1,102.08 L528.1,99.21 L528.4,98.41 L528.7,98.16 L529.0,98.04 L529.3,97.99 L529.6,98.03 L529.9,98.14 L530.2,98.37 L530.5,98.93 L530.5,103.23 L531.4,103.23 L531.4,103.75 L531.7,102.89 L532.0,102.60 L532.3,102.45 L532.6,102.37 L532.9,102.35 L533.2,102.35 L533.5,102.35 L533.8,102.35 L534.1,102.36 L534.4,102.40 L534.7,102.52 L535.0,102.75 L535.3,103.17 L535.4,106.67 L536.2,106.67 L536.2,102.10 L536.5,101.30 L536.8,101.05 L537.1,100.92 L537.4,100.88 L537.7,100.91 L538.0,101.02 L538.3,101.25 L538.6,101.77 L538.6,105.60 L539.2,105.60 L539.2,100.14 L539.5,99.28 L539.8,98.99 L540.1,98.83 L540.4,98.76 L540.7,98.74 L541.0,98.74 L541.3,98.74 L541.6,98.74 L541.9,98.74 L542.2,98.79 L542.5,98.92 L542.8,99.14 L543.1,99.58 L543.3,102.38 L544.4,102.38 L544.0,102.38 L544.0,138.1 Q544.0,139.4 542.7,139.4 L525.4,139.4 Q524.1,139.4 524.1,138.1 Z" fill="#999999"/>
<ellipse cx="525.1" cy="100.6" rx="0.63" ry="1.37" fill="#fff"/>
<ellipse cx="530.4" cy="106.1" rx="0.85" ry="1.40" fill="#fff"/>
<ellipse cx="537.3" cy="104.9" rx="0.80" ry="1.34" fill="#fff"/>
<ellipse cx="539.1" cy="101.4" rx="0.65" ry="1.26" fill="#fff"/>
<path d="M543.4,138.1 L543.4,98.15 L543.7,97.32 L544.0,97.06 L544.3,96.93 L544.6,96.87 L544.9,96.89 L545.2,96.98 L545.5,97.17 L545.8,97.55 L545.9,98.25 L546.2,97.38 L546.5,97.10 L546.8,96.94 L547.1,96.86 L547.4,96.85 L547.7,96.85 L548.0,96.89 L548.3,97.00 L548.6,97.20 L548.9,97.58 L549.1,102.31 L549.4,101.57 L549.7,101.35 L550.0,101.26 L550.3,101.26 L550.6,101.35 L550.9,101.56 L551.2,102.13 L551.2,105.62 L552.0,105.62 L552.0,101.69 L552.3,100.83 L552.6,100.54 L552.9,100.39 L553.2,100.31 L553.5,100.29 L553.8,100.29 L554.1,100.29 L554.4,100.31 L554.7,100.40 L555.0,100.57 L555.3,100.88 L555.6,102.21 L555.9,101.35 L556.2,101.07 L556.5,100.91 L556.8,100.83 L557.1,100.81 L557.4,100.81 L557.7,100.81 L558.0,100.83 L558.3,100.90 L558.6,101.05 L558.9,101.32 L559.2,101.96 L559.2,102.90 L559.5,102.07 L559.8,101.81 L560.1,101.67 L560.4,101.61 L560.7,101.62 L561.0,101.70 L561.3,101.88 L561.6,102.21 L561.8,102.21 L561.8,138.1 Q561.8,139.4 560.5,139.4 L544.7,139.4 Q543.4,139.4 543.4,138.1 Z" fill="#595959"/>
<ellipse cx="551.2" cy="103.8" rx="0.63" ry="0.71" fill="#fff"/>
<path d="M561.2,138.1 L561.2,100.09 L561.5,99.23 L561.8,98.94 L562.1,98.79 L562.4,98.71 L562.7,98.69 L563.0,98.70 L563.3,98.75 L563.6,98.88 L563.9,99.11 L564.2,99.57 L564.3,105.24 L565.5,105.24 L565.5,100.81 L565.8,99.95 L566.1,99.66 L566.4,99.51 L566.7,99.43 L567.0,99.41 L567.3,99.41 L567.6,99.41 L567.9,99.42 L568.2,99.48 L568.5,99.63 L568.8,99.88 L569.1,100.41 L569.2,105.94 L570.0,105.94 L570.0,101.29 L570.3,100.42 L570.6,100.14 L570.9,99.98 L571.2,99.90 L571.5,99.89 L571.8,99.90 L572.1,99.98 L572.4,100.13 L572.7,100.41 L573.0,101.10 L573.0,100.81 L573.3,99.94 L573.6,99.66 L573.9,99.50 L574.2,99.43 L574.5,99.41 L574.8,99.41 L575.1,99.41 L575.4,99.41 L575.7,99.41 L576.0,99.45 L576.3,99.56 L576.6,99.76 L576.9,100.13 L577.1,102.16 L578.1,102.16 L578.1,100.49 L578.4,99.63 L578.7,99.34 L579.0,99.19 L579.3,99.11 L579.6,99.09 L579.9,99.09 L580.2,99.09 L580.5,99.09 L580.8,99.09 L581.1,99.12 L581.4,99.22 L581.7,99.41 L582.0,99.74 L582.2,99.40 L582.5,99.15 L582.8,99.15 L582.8,138.1 Q582.8,139.4 581.5,139.4 L562.5,139.4 Q561.2,139.4 561.2,138.1 Z" fill="#999999"/>
<ellipse cx="562.2" cy="102.7" rx="0.53" ry="0.70" fill="#fff"/>
<ellipse cx="564.1" cy="101.9" rx="0.59" ry="1.13" fill="#fff"/>
<ellipse cx="575.6" cy="100.9" rx="0.88" ry="1.29" fill="#fff"/>
<ellipse cx="576.9" cy="101.5" rx="0.56" ry="1.40" fill="#fff"/>
<ellipse cx="578.3" cy="104.7" rx="0.81" ry="0.85" fill="#fff"/>
<path d="M582.2,138.1 L582.2,102.85 L582.5,101.98 L582.8,101.70 L583.1,101.54 L583.4,101.46 L583.7,101.45 L584.0,101.45 L584.3,101.45 L584.6,101.45 L584.9,101.45 L585.2,101.50 L585.5,101.63 L585.8,101.86 L586.1,102.31 L586.2,102.12 L586.5,101.25 L586.8,100.97 L587.1,100.81 L587.4,100.73 L587.7,100.72 L588.0,100.72 L588.3,100.72 L588.6,100.72 L588.9,100.72 L589.2,100.72 L589.5,100.73 L589.8,100.81 L590.1,100.96 L590.4,101.23 L590.7,101.91 L590.7,103.70 L591.0,102.83 L591.3,102.55 L591.6,102.39 L591.9,102.31 L592.2,102.30 L592.5,102.30 L592.8,102.30 L593.1,102.32 L593.4,102.39 L593.7,102.56 L594.0,102.84 L594.3,103.83 L594.6,102.97 L594.9,102.68 L595.2,102.52 L595.5,102.45 L595.8,102.43 L596.1,102.43 L596.4,102.43 L596.7,102.43 L597.0,102.43 L597.3,102.43 L597.6,102.43 L597.9,102.48 L598.2,102.59 L598.5,102.81 L598.8,103.21 L599.0,103.92 L599.5,103.92 L599.5,100.08 L599.8,99.50 L600.1,99.38 L600.4,99.40 L600.7,99.57 L600.9,99.57 L600.9,138.1 Q600.9,139.4 599.6,139.4 L583.5,139.4 Q582.2,139.4 582.2,138.1 Z" fill="#595959"/>
<ellipse cx="588.0" cy="105.1" rx="0.66" ry="1.21" fill="#fff"/>
<path d="M600.3,138.1 L600.3,99.63 L600.6,98.76 L600.9,98.48 L601.2,98.32 L601.5,98.24 L601.8,98.23 L602.1,98.23 L602.4,98.23 L602.7,98.23 L603.0,98.23 L603.3,98.23 L603.6,98.25 L603.9,98.34 L604.2,98.51 L604.5,98.82 L604.8,100.45 L606.1,100.45 L606.1,97.95 L606.4,97.08 L606.7,96.80 L607.0,96.64 L607.3,96.57 L607.6,96.55 L607.9,96.55 L608.2,96.55 L608.5,96.55 L608.8,96.57 L609.1,96.66 L609.4,96.84 L609.7,97.15 L609.9,99.95 L611.2,99.95 L611.2,97.67 L611.5,96.81 L611.8,96.52 L612.1,96.36 L612.4,96.29 L612.7,96.27 L613.0,96.27 L613.3,96.29 L613.6,96.37 L613.9,96.53 L614.2,96.82 L614.5,96.36 L614.8,95.52 L615.1,95.24 L615.4,95.09 L615.7,95.03 L616.0,95.03 L616.3,95.10 L616.6,95.25 L616.9,95.53 L617.2,101.02 L618.2,101.02 L618.2,96.55 L618.5,96.14 L618.8,96.15 L619.1,96.15 L619.1,138.1 Q619.1,139.4 617.8,139.4 L601.6,139.4 Q600.3,139.4 600.3,138.1 Z" fill="#999999"/>
<ellipse cx="602.9" cy="101.7" rx="0.89" ry="1.29" fill="#fff"/>
<ellipse cx="606.2" cy="100.1" rx="0.74" ry="1.41" fill="#fff"/>
<ellipse cx="611.4" cy="101.5" rx="0.72" ry="1.29" fill="#fff"/>
<path d="M618.5,138.1 L618.5,101.51 L618.8,100.64 L619.1,100.36 L619.4,100.20 L619.7,100.12 L620.0,100.11 L620.3,100.11 L620.6,100.11 L620.9,100.11 L621.2,100.11 L621.5,100.16 L621.8,100.27 L622.1,100.49 L622.4,100.89 L622.5,102.14 L622.8,101.27 L623.1,100.99 L623.4,100.83 L623.7,100.75 L624.0,100.74 L624.3,100.74 L624.6,100.75 L624.9,100.81 L625.2,100.94 L625.5,101.19 L625.8,101.69 L625.9,102.91 L626.4,102.91 L626.4,103.13 L626.7,102.27 L627.0,101.99 L627.3,101.83 L627.6,101.75 L627.9,101.73 L628.2,101.73 L628.5,101.73 L628.8,101.73 L629.1,101.73 L629.4,101.74 L629.7,101.79 L630.0,101.91 L630.3,102.13 L630.6,102.56 L630.7,98.73 L631.0,98.14 L631.3,98.01 L631.6,98.02 L631.9,98.17 L632.2,98.17 L632.2,138.1 Q632.2,139.4 630.9,139.4 L619.8,139.4 Q618.5,139.4 618.5,138.1 Z" fill="#595959"/>
<path d="M631.6,138.1 L631.6,102.24 L631.9,101.37 L632.2,101.09 L632.5,100.93 L632.8,100.85 L633.1,100.84 L633.4,100.84 L633.7,100.87 L634.0,100.96 L634.3,101.15 L634.6,101.48 L634.8,108.52 L635.9,108.52 L635.9,103.53 L636.2,102.67 L636.5,102.38 L636.8,102.22 L637.1,102.15 L637.4,102.13 L637.7,102.13 L638.0,102.13 L638.3,102.13 L638.6,102.13 L638.9,102.13 L639.2,102.15 L639.5,102.24 L639.8,102.41 L640.1,102.72 L640.4,107.20 L641.0,107.20 L641.0,102.57 L641.3,101.72 L641.6,101.45 L641.9,101.30 L642.2,101.23 L642.5,101.23 L642.8,101.30 L643.1,101.46 L643.4,101.74 L643.7,107.38 L644.3,107.38 L644.3,104.75 L644.6,103.94 L644.9,103.68 L645.2,103.55 L645.5,103.51 L645.8,103.53 L646.1,103.64 L646.4,103.85 L646.7,104.31 L646.8,103.31 L647.1,103.25 L647.2,103.25 L647.2,138.1 Q647.2,139.4 645.9,139.4 L632.9,139.4 Q631.6,139.4 631.6,138.1 Z" fill="#999999"/>
<ellipse cx="632.6" cy="103.7" rx="0.77" ry="0.92" fill="#fff"/>
<ellipse cx="634.5" cy="103.8" rx="0.80" ry="1.34" fill="#fff"/>
<ellipse cx="641.6" cy="107.7" rx="0.77" ry="0.71" fill="#fff"/>
<ellipse cx="644.6" cy="104.9" rx="0.78" ry="0.85" fill="#fff"/>
<path d="M646.6,138.1 L646.6,99.84 L646.9,98.98 L647.2,98.69 L647.5,98.54 L647.8,98.46 L648.1,98.44 L648.4,98.44 L648.7,98.44 L649.0,98.49 L649.3,98.60 L649.6,98.81 L649.9,99.20 L650.1,99.70 L650.4,98.83 L650.7,98.55 L651.0,98.39 L651.3,98.31 L651.6,98.30 L651.9,98.30 L652.2,98.30 L652.5,98.30 L652.8,98.35 L653.1,98.47 L653.4,98.69 L653.7,99.12 L653.8,99.16 L654.1,99.01 L654.3,99.01 L654.3,138.1 Q654.3,139.4 653.0,139.4 L647.9,139.4 Q646.6,139.4 646.6,138.1 Z" fill="#595959"/>
<path d="M653.7,138.1 L653.7,99.90 L654.0,99.03 L654.3,98.75 L654.6,98.59 L654.9,98.51 L655.2,98.50 L655.5,98.50 L655.8,98.50 L656.1,98.50 L656.4,98.50 L656.7,98.50 L657.0,98.54 L657.3,98.65 L657.6,98.85 L657.9,99.22 L658.1,100.07 L658.9,100.07 L658.9,98.67 L659.2,97.80 L659.5,97.52 L659.8,97.36 L660.1,97.28 L660.4,97.27 L660.7,97.27 L661.0,97.27 L661.3,97.27 L661.6,97.27 L661.9,97.27 L662.2,97.29 L662.5,97.39 L662.8,97.56 L663.1,97.89 L663.3,99.82 L663.6,99.19 L663.9,99.03 L664.2,99.00 L664.5,99.09 L664.8,99.34 L665.0,99.34 L665.0,138.1 Q665.0,139.4 663.7,139.4 L655.0,139.4 Q653.7,139.4 653.7,138.1 Z" fill="#999999"/>
<ellipse cx="55.4" cy="89.3" rx="1.5" ry="1.65" fill="#555555"/>
<ellipse cx="55.4" cy="94.8" rx="1.5" ry="1.65" fill="#555555"/>
<ellipse cx="59.5" cy="91.0" rx="1.5" ry="1.65" fill="#555555"/>
<ellipse cx="59.5" cy="92.7" rx="1.5" ry="1.65" fill="#555555"/>
<ellipse cx="59.5" cy="94.4" rx="1.5" ry="1.65" fill="#555555"/>
<ellipse cx="59.5" cy="96.1" rx="1.5" ry="1.65" fill="#555555"/>
<ellipse cx="59.5" cy="97.8" rx="1.5" ry="1.65" fill="#555555"/>
<ellipse cx="59.5" cy="99.5" rx="1.5" ry="1.65" fill="#555555"/>
<ellipse cx="66.5" cy="96.7" rx="1.5" ry="1.65" fill="#555555"/>
<ellipse cx="72.5" cy="96.5" rx="1.5" ry="1.65" fill="#555555"/>
<ellipse cx="83.0" cy="95.4" rx="1.5" ry="1.65" fill="#555555"/>
<ellipse cx="98.4" cy="72.4" rx="1.5" ry="1.65" fill="#969696"/>
<ellipse cx="98.4" cy="83.8" rx="1.5" ry="1.65" fill="#969696"/>
<ellipse cx="112.0" cy="90.5" rx="1.5" ry="1.65" fill="#969696"/>
<ellipse cx="112.0" cy="92.2" rx="1.5" ry="1.65" fill="#969696"/>
<ellipse cx="112.0" cy="93.9" rx="1.5" ry="1.65" fill="#969696"/>
<ellipse cx="112.0" cy="95.6" rx="1.5" ry="1.65" fill="#969696"/>
<ellipse cx="112.0" cy="97.3" rx="1.5" ry="1.65" fill="#969696"/>
<ellipse cx="112.0" cy="99.0" rx="1.5" ry="1.65" fill="#969696"/>
<ellipse cx="112.0" cy="100.7" rx="1.5" ry="1.65" fill="#969696"/>
<ellipse cx="120.6" cy="86.3" rx="1.5" ry="1.65" fill="#969696"/>
<ellipse cx="120.6" cy="88.0" rx="1.5" ry="1.65" fill="#969696"/>
<ellipse cx="120.6" cy="89.7" rx="1.5" ry="1.65" fill="#969696"/>
<ellipse cx="120.6" cy="91.4" rx="1.5" ry="1.65" fill="#969696"/>
<ellipse cx="120.6" cy="93.1" rx="1.5" ry="1.65" fill="#969696"/>
<ellipse cx="120.6" cy="94.8" rx="1.5" ry="1.65" fill="#969696"/>
<ellipse cx="120.6" cy="96.5" rx="1.5" ry="1.65" fill="#969696"/>
<ellipse cx="120.6" cy="98.2" rx="1.5" ry="1.65" fill="#969696"/>
<ellipse cx="120.6" cy="99.9" rx="1.5" ry="1.65" fill="#969696"/>
<ellipse cx="141.2" cy="86.3" rx="1.5" ry="1.65" fill="#969696"/>
<ellipse cx="141.2" cy="88.0" rx="1.5" ry="1.65" fill="#969696"/>
<ellipse cx="141.2" cy="89.7" rx="1.5" ry="1.65" fill="#969696"/>
<ellipse cx="141.2" cy="91.4" rx="1.5" ry="1.65" fill="#969696"/>
<ellipse cx="141.2" cy="93.1" rx="1.5" ry="1.65" fill="#969696"/>
<ellipse cx="141.2" cy="94.8" rx="1.5" ry="1.65" fill="#969696"/>
<ellipse cx="141.2" cy="96.5" rx="1.5" ry="1.65" fill="#969696"/>
<ellipse cx="141.2" cy="98.2" rx="1.5" ry="1.65" fill="#969696"/>
<ellipse cx="141.2" cy="99.9" rx="1.5" ry="1.65" fill="#969696"/>
<ellipse cx="145.6" cy="47.7" rx="1.5" ry="1.65" fill="#555555"/>
<ellipse cx="145.6" cy="49.3" rx="1.5" ry="1.65" fill="#555555"/>
<ellipse cx="145.6" cy="52.2" rx="1.5" ry="1.65" fill="#555555"/>
<ellipse cx="145.6" cy="56.8" rx="1.5" ry="1.65" fill="#555555"/>
<ellipse cx="145.6" cy="59.0" rx="1.5" ry="1.65" fill="#555555"/>
<ellipse cx="145.6" cy="61.0" rx="1.5" ry="1.65" fill="#555555"/>
<ellipse cx="145.6" cy="63.2" rx="1.5" ry="1.65" fill="#555555"/>
<ellipse cx="145.6" cy="64.6" rx="1.5" ry="1.65" fill="#555555"/>
<ellipse cx="145.6" cy="75.8" rx="1.5" ry="1.65" fill="#555555"/>
<ellipse cx="147.1" cy="92.0" rx="1.5" ry="1.65" fill="#555555"/>
<ellipse cx="149.0" cy="94.1" rx="1.5" ry="1.65" fill="#555555"/>
<ellipse cx="149.0" cy="96.0" rx="1.5" ry="1.65" fill="#555555"/>
<ellipse cx="158.6" cy="88.1" rx="1.5" ry="1.65" fill="#555555"/>
<ellipse cx="158.6" cy="89.8" rx="1.5" ry="1.65" fill="#555555"/>
<ellipse cx="158.6" cy="91.5" rx="1.5" ry="1.65" fill="#555555"/>
<ellipse cx="158.6" cy="93.2" rx="1.5" ry="1.65" fill="#555555"/>
<ellipse cx="158.6" cy="94.9" rx="1.5" ry="1.65" fill="#555555"/>
<ellipse cx="158.6" cy="96.6" rx="1.5" ry="1.65" fill="#555555"/>
<ellipse cx="158.6" cy="98.3" rx="1.5" ry="1.65" fill="#555555"/>
<ellipse cx="158.6" cy="100.0" rx="1.5" ry="1.65" fill="#555555"/>
<ellipse cx="173.9" cy="96.9" rx="1.5" ry="1.65" fill="#555555"/>
<ellipse cx="182.6" cy="97.2" rx="1.5" ry="1.65" fill="#555555"/>
<ellipse cx="188.1" cy="79.2" rx="1.5" ry="1.65" fill="#555555"/>
<ellipse cx="188.1" cy="80.9" rx="1.5" ry="1.65" fill="#555555"/>
<ellipse cx="188.1" cy="82.6" rx="1.5" ry="1.65" fill="#555555"/>
<ellipse cx="188.1" cy="84.3" rx="1.5" ry="1.65" fill="#555555"/>
<ellipse cx="188.1" cy="86.0" rx="1.5" ry="1.65" fill="#555555"/>
<ellipse cx="188.1" cy="87.7" rx="1.5" ry="1.65" fill="#555555"/>
<ellipse cx="188.1" cy="89.4" rx="1.5" ry="1.65" fill="#555555"/>
<ellipse cx="188.1" cy="91.1" rx="1.5" ry="1.65" fill="#555555"/>
<ellipse cx="188.1" cy="92.8" rx="1.5" ry="1.65" fill="#555555"/>
<ellipse cx="188.1" cy="94.5" rx="1.5" ry="1.65" fill="#555555"/>
<ellipse cx="188.1" cy="96.2" rx="1.5" ry="1.65" fill="#555555"/>
<ellipse cx="188.1" cy="97.9" rx="1.5" ry="1.65" fill="#555555"/>
<ellipse cx="188.1" cy="99.6" rx="1.5" ry="1.65" fill="#555555"/>
<ellipse cx="190.3" cy="94.1" rx="1.5" ry="1.65" fill="#555555"/>
<ellipse cx="197.0" cy="94.7" rx="1.5" ry="1.65" fill="#969696"/>
<ellipse cx="197.0" cy="96.4" rx="1.5" ry="1.65" fill="#969696"/>
<ellipse cx="197.0" cy="98.1" rx="1.5" ry="1.65" fill="#969696"/>
<ellipse cx="197.0" cy="99.8" rx="1.5" ry="1.65" fill="#969696"/>
<ellipse cx="202.5" cy="93.6" rx="1.5" ry="1.65" fill="#969696"/>
<ellipse cx="202.5" cy="95.3" rx="1.5" ry="1.65" fill="#969696"/>
<ellipse cx="202.5" cy="97.0" rx="1.5" ry="1.65" fill="#969696"/>
<ellipse cx="202.5" cy="98.7" rx="1.5" ry="1.65" fill="#969696"/>
<ellipse cx="202.5" cy="100.4" rx="1.5" ry="1.65" fill="#969696"/>
<ellipse cx="231.4" cy="86.5" rx="1.5" ry="1.65" fill="#969696"/>
<ellipse cx="235.0" cy="84.0" rx="1.5" ry="1.65" fill="#555555"/>
<ellipse cx="240.5" cy="89.4" rx="1.5" ry="1.65" fill="#555555"/>
<ellipse cx="240.5" cy="91.5" rx="1.5" ry="1.65" fill="#555555"/>
<ellipse cx="255.6" cy="21.5" rx="1.5" ry="1.65" fill="#555555"/>
<ellipse cx="255.6" cy="24.0" rx="1.5" ry="1.65" fill="#555555"/>
<ellipse cx="255.6" cy="26.5" rx="1.5" ry="1.65" fill="#555555"/>
<ellipse cx="255.6" cy="29.0" rx="1.5" ry="1.65" fill="#555555"/>
<ellipse cx="255.6" cy="31.5" rx="1.5" ry="1.65" fill="#555555"/>
<ellipse cx="255.6" cy="42.3" rx="1.5" ry="1.65" fill="#555555"/>
<ellipse cx="255.6" cy="57.9" rx="1.5" ry="1.65" fill="#555555"/>
<ellipse cx="255.6" cy="66.9" rx="1.5" ry="1.65" fill="#555555"/>
<ellipse cx="255.6" cy="68.5" rx="1.5" ry="1.65" fill="#555555"/>
<ellipse cx="255.6" cy="70.0" rx="1.5" ry="1.65" fill="#555555"/>
<ellipse cx="255.6" cy="72.0" rx="1.5" ry="1.65" fill="#555555"/>
<ellipse cx="255.6" cy="74.0" rx="1.5" ry="1.65" fill="#555555"/>
<ellipse cx="255.6" cy="76.0" rx="1.5" ry="1.65" fill="#555555"/>
<ellipse cx="255.6" cy="81.0" rx="1.5" ry="1.65" fill="#555555"/>
<ellipse cx="255.6" cy="89.4" rx="1.5" ry="1.65" fill="#555555"/>
<ellipse cx="255.6" cy="91.3" rx="1.5" ry="1.65" fill="#555555"/>
<ellipse cx="255.6" cy="95.0" rx="1.5" ry="1.65" fill="#555555"/>
<ellipse cx="258.4" cy="60.3" rx="1.5" ry="1.65" fill="#555555"/>
<ellipse cx="269.6" cy="85.6" rx="1.5" ry="1.65" fill="#555555"/>
<ellipse cx="269.6" cy="91.6" rx="1.5" ry="1.65" fill="#555555"/>
<ellipse cx="273.4" cy="92.8" rx="1.5" ry="1.65" fill="#555555"/>
<ellipse cx="233.5" cy="95.5" rx="1.5" ry="1.65" fill="#555555"/>
<ellipse cx="235.5" cy="94.8" rx="1.5" ry="1.65" fill="#555555"/>
<ellipse cx="237.5" cy="95.8" rx="1.5" ry="1.65" fill="#555555"/>
<ellipse cx="242.0" cy="95.2" rx="1.5" ry="1.65" fill="#555555"/>
<ellipse cx="244.7" cy="93.8" rx="1.5" ry="1.65" fill="#555555"/>
<ellipse cx="246.3" cy="96.5" rx="1.5" ry="1.65" fill="#555555"/>
<ellipse cx="258.0" cy="95.5" rx="1.5" ry="1.65" fill="#555555"/>
<ellipse cx="260.0" cy="94.8" rx="1.5" ry="1.65" fill="#555555"/>
<ellipse cx="262.0" cy="96.0" rx="1.5" ry="1.65" fill="#555555"/>
<ellipse cx="264.5" cy="96.8" rx="1.5" ry="1.65" fill="#555555"/>
<ellipse cx="282.5" cy="93.4" rx="1.5" ry="1.65" fill="#969696"/>
<ellipse cx="309.4" cy="78.5" rx="1.5" ry="1.65" fill="#969696"/>
<ellipse cx="315.3" cy="90.6" rx="1.5" ry="1.65" fill="#555555"/>
<ellipse cx="315.3" cy="92.3" rx="1.5" ry="1.65" fill="#555555"/>
<ellipse cx="315.3" cy="94.0" rx="1.5" ry="1.65" fill="#555555"/>
<ellipse cx="315.3" cy="95.7" rx="1.5" ry="1.65" fill="#555555"/>
<ellipse cx="315.3" cy="97.4" rx="1.5" ry="1.65" fill="#555555"/>
<ellipse cx="315.3" cy="99.1" rx="1.5" ry="1.65" fill="#555555"/>
<ellipse cx="315.3" cy="100.8" rx="1.5" ry="1.65" fill="#555555"/>
<ellipse cx="324.0" cy="26.0" rx="1.5" ry="1.65" fill="#555555"/>
<ellipse cx="324.0" cy="28.5" rx="1.5" ry="1.65" fill="#555555"/>
<ellipse cx="324.0" cy="35.0" rx="1.5" ry="1.65" fill="#555555"/>
<ellipse cx="324.0" cy="37.0" rx="1.5" ry="1.65" fill="#555555"/>
<ellipse cx="324.0" cy="39.0" rx="1.5" ry="1.65" fill="#555555"/>
<ellipse cx="324.0" cy="41.0" rx="1.5" ry="1.65" fill="#555555"/>
<ellipse cx="324.0" cy="43.0" rx="1.5" ry="1.65" fill="#555555"/>
<ellipse cx="324.0" cy="50.5" rx="1.5" ry="1.65" fill="#555555"/>
<ellipse cx="324.0" cy="53.0" rx="1.5" ry="1.65" fill="#555555"/>
<ellipse cx="324.0" cy="75.0" rx="1.5" ry="1.65" fill="#555555"/>
<ellipse cx="324.0" cy="86.9" rx="1.5" ry="1.65" fill="#555555"/>
<ellipse cx="324.0" cy="88.6" rx="1.5" ry="1.65" fill="#555555"/>
<ellipse cx="324.0" cy="90.3" rx="1.5" ry="1.65" fill="#555555"/>
<ellipse cx="324.0" cy="92.0" rx="1.5" ry="1.65" fill="#555555"/>
<ellipse cx="324.0" cy="93.7" rx="1.5" ry="1.65" fill="#555555"/>
<ellipse cx="324.0" cy="95.4" rx="1.5" ry="1.65" fill="#555555"/>
<ellipse cx="324.0" cy="97.1" rx="1.5" ry="1.65" fill="#555555"/>
<ellipse cx="324.0" cy="98.8" rx="1.5" ry="1.65" fill="#555555"/>
<ellipse cx="324.0" cy="100.5" rx="1.5" ry="1.65" fill="#555555"/>
<ellipse cx="360.6" cy="93.1" rx="1.5" ry="1.65" fill="#969696"/>
<ellipse cx="373.8" cy="93.1" rx="1.5" ry="1.65" fill="#969696"/>
<ellipse cx="362.0" cy="96.7" rx="1.5" ry="1.65" fill="#969696"/>
<ellipse cx="381.6" cy="67.3" rx="1.5" ry="1.65" fill="#555555"/>
<ellipse cx="383.6" cy="94.2" rx="1.5" ry="1.65" fill="#555555"/>
<ellipse cx="399.0" cy="95.6" rx="1.5" ry="1.65" fill="#555555"/>
<ellipse cx="413.5" cy="93.8" rx="1.5" ry="1.65" fill="#969696"/>
<ellipse cx="413.5" cy="95.5" rx="1.5" ry="1.65" fill="#969696"/>
<ellipse cx="413.5" cy="97.2" rx="1.5" ry="1.65" fill="#969696"/>
<ellipse cx="413.5" cy="98.9" rx="1.5" ry="1.65" fill="#969696"/>
<ellipse cx="413.5" cy="100.6" rx="1.5" ry="1.65" fill="#969696"/>
<ellipse cx="417.9" cy="85.6" rx="1.5" ry="1.65" fill="#969696"/>
<ellipse cx="417.9" cy="87.3" rx="1.5" ry="1.65" fill="#969696"/>
<ellipse cx="417.9" cy="89.0" rx="1.5" ry="1.65" fill="#969696"/>
<ellipse cx="417.9" cy="90.7" rx="1.5" ry="1.65" fill="#969696"/>
<ellipse cx="417.9" cy="92.4" rx="1.5" ry="1.65" fill="#969696"/>
<ellipse cx="417.9" cy="94.1" rx="1.5" ry="1.65" fill="#969696"/>
<ellipse cx="417.9" cy="95.8" rx="1.5" ry="1.65" fill="#969696"/>
<ellipse cx="417.9" cy="97.5" rx="1.5" ry="1.65" fill="#969696"/>
<ellipse cx="417.9" cy="99.2" rx="1.5" ry="1.65" fill="#969696"/>
<ellipse cx="417.9" cy="100.9" rx="1.5" ry="1.65" fill="#969696"/>
<ellipse cx="426.3" cy="22.5" rx="1.5" ry="1.65" fill="#969696"/>
<ellipse cx="426.3" cy="34.7" rx="1.5" ry="1.65" fill="#969696"/>
<ellipse cx="426.3" cy="40.9" rx="1.5" ry="1.65" fill="#969696"/>
<ellipse cx="426.3" cy="53.1" rx="1.5" ry="1.65" fill="#969696"/>
<ellipse cx="426.3" cy="63.4" rx="1.5" ry="1.65" fill="#969696"/>
<ellipse cx="426.3" cy="69.4" rx="1.5" ry="1.65" fill="#969696"/>
<ellipse cx="426.3" cy="81.9" rx="1.5" ry="1.65" fill="#969696"/>
<ellipse cx="426.3" cy="83.6" rx="1.5" ry="1.65" fill="#969696"/>
<ellipse cx="426.3" cy="85.3" rx="1.5" ry="1.65" fill="#969696"/>
<ellipse cx="426.3" cy="87.0" rx="1.5" ry="1.65" fill="#969696"/>
<ellipse cx="426.3" cy="88.7" rx="1.5" ry="1.65" fill="#969696"/>
<ellipse cx="426.3" cy="90.4" rx="1.5" ry="1.65" fill="#969696"/>
<ellipse cx="426.3" cy="92.1" rx="1.5" ry="1.65" fill="#969696"/>
<ellipse cx="426.3" cy="93.8" rx="1.5" ry="1.65" fill="#969696"/>
<ellipse cx="426.3" cy="95.5" rx="1.5" ry="1.65" fill="#969696"/>
<ellipse cx="426.3" cy="97.2" rx="1.5" ry="1.65" fill="#969696"/>
<ellipse cx="426.3" cy="98.9" rx="1.5" ry="1.65" fill="#969696"/>
<ellipse cx="426.3" cy="100.6" rx="1.5" ry="1.65" fill="#969696"/>
<ellipse cx="430.6" cy="96.9" rx="1.5" ry="1.65" fill="#969696"/>
<ellipse cx="441.9" cy="94.4" rx="1.5" ry="1.65" fill="#969696"/>
<ellipse cx="447.7" cy="94.7" rx="1.5" ry="1.65" fill="#555555"/>
<ellipse cx="455.3" cy="61.0" rx="1.5" ry="1.65" fill="#555555"/>
<ellipse cx="455.3" cy="67.5" rx="1.5" ry="1.65" fill="#555555"/>
<ellipse cx="455.3" cy="69.5" rx="1.5" ry="1.65" fill="#555555"/>
<ellipse cx="455.3" cy="71.5" rx="1.5" ry="1.65" fill="#555555"/>
<ellipse cx="455.3" cy="73.5" rx="1.5" ry="1.65" fill="#555555"/>
<ellipse cx="455.3" cy="76.0" rx="1.5" ry="1.65" fill="#555555"/>
<ellipse cx="455.3" cy="79.7" rx="1.5" ry="1.65" fill="#555555"/>
<ellipse cx="455.3" cy="82.0" rx="1.5" ry="1.65" fill="#555555"/>
<ellipse cx="455.3" cy="84.5" rx="1.5" ry="1.65" fill="#555555"/>
<ellipse cx="455.3" cy="87.2" rx="1.5" ry="1.65" fill="#555555"/>
<ellipse cx="455.3" cy="90.0" rx="1.5" ry="1.65" fill="#555555"/>
<ellipse cx="455.3" cy="96.6" rx="1.5" ry="1.65" fill="#555555"/>
<ellipse cx="455.3" cy="101.3" rx="1.5" ry="1.65" fill="#555555"/>
<ellipse cx="469.4" cy="72.2" rx="1.5" ry="1.65" fill="#555555"/>
<ellipse cx="469.4" cy="84.4" rx="1.5" ry="1.65" fill="#555555"/>
<ellipse cx="469.4" cy="86.8" rx="1.5" ry="1.65" fill="#555555"/>
<ellipse cx="469.4" cy="89.2" rx="1.5" ry="1.65" fill="#555555"/>
<ellipse cx="469.4" cy="91.5" rx="1.5" ry="1.65" fill="#555555"/>
<ellipse cx="469.4" cy="93.8" rx="1.5" ry="1.65" fill="#555555"/>
<ellipse cx="463.0" cy="95.8" rx="1.5" ry="1.65" fill="#555555"/>
<ellipse cx="477.7" cy="89.4" rx="1.5" ry="1.65" fill="#969696"/>
<ellipse cx="477.7" cy="91.8" rx="1.5" ry="1.65" fill="#969696"/>
<ellipse cx="502.6" cy="72.7" rx="1.5" ry="1.65" fill="#969696"/>
<ellipse cx="502.6" cy="93.7" rx="1.5" ry="1.65" fill="#969696"/>
<ellipse cx="526.5" cy="91.1" rx="1.5" ry="1.65" fill="#969696"/>
<ellipse cx="526.5" cy="94.9" rx="1.5" ry="1.65" fill="#969696"/>
<ellipse cx="541.5" cy="84.2" rx="1.5" ry="1.65" fill="#969696"/>
<ellipse cx="541.5" cy="85.9" rx="1.5" ry="1.65" fill="#969696"/>
<ellipse cx="541.5" cy="87.6" rx="1.5" ry="1.65" fill="#969696"/>
<ellipse cx="541.5" cy="89.3" rx="1.5" ry="1.65" fill="#969696"/>
<ellipse cx="541.5" cy="91.0" rx="1.5" ry="1.65" fill="#969696"/>
<ellipse cx="541.5" cy="92.7" rx="1.5" ry="1.65" fill="#969696"/>
<ellipse cx="541.5" cy="94.4" rx="1.5" ry="1.65" fill="#969696"/>
<ellipse cx="541.5" cy="96.1" rx="1.5" ry="1.65" fill="#969696"/>
<ellipse cx="541.5" cy="97.8" rx="1.5" ry="1.65" fill="#969696"/>
<ellipse cx="541.5" cy="99.5" rx="1.5" ry="1.65" fill="#969696"/>
<ellipse cx="545.4" cy="73.9" rx="1.5" ry="1.65" fill="#555555"/>
<ellipse cx="545.4" cy="75.6" rx="1.5" ry="1.65" fill="#555555"/>
<ellipse cx="545.4" cy="77.3" rx="1.5" ry="1.65" fill="#555555"/>
<ellipse cx="545.8" cy="92.0" rx="1.5" ry="1.65" fill="#555555"/>
<ellipse cx="545.8" cy="93.7" rx="1.5" ry="1.65" fill="#555555"/>
<ellipse cx="545.8" cy="95.4" rx="1.5" ry="1.65" fill="#555555"/>
<ellipse cx="545.8" cy="97.1" rx="1.5" ry="1.65" fill="#555555"/>
<ellipse cx="545.8" cy="98.8" rx="1.5" ry="1.65" fill="#555555"/>
<ellipse cx="545.8" cy="100.5" rx="1.5" ry="1.65" fill="#555555"/>
<ellipse cx="570.7" cy="85.1" rx="1.5" ry="1.65" fill="#969696"/>
<ellipse cx="570.7" cy="91.1" rx="1.5" ry="1.65" fill="#969696"/>
<ellipse cx="570.7" cy="92.8" rx="1.5" ry="1.65" fill="#969696"/>
<ellipse cx="570.7" cy="94.5" rx="1.5" ry="1.65" fill="#969696"/>
<ellipse cx="570.7" cy="96.2" rx="1.5" ry="1.65" fill="#969696"/>
<ellipse cx="570.7" cy="97.9" rx="1.5" ry="1.65" fill="#969696"/>
<ellipse cx="570.7" cy="99.6" rx="1.5" ry="1.65" fill="#969696"/>
<ellipse cx="580.6" cy="93.8" rx="1.5" ry="1.65" fill="#969696"/>
<ellipse cx="598.2" cy="89.6" rx="1.5" ry="1.65" fill="#555555"/>
<ellipse cx="598.2" cy="91.3" rx="1.5" ry="1.65" fill="#555555"/>
<ellipse cx="598.2" cy="93.0" rx="1.5" ry="1.65" fill="#555555"/>
<ellipse cx="598.2" cy="94.7" rx="1.5" ry="1.65" fill="#555555"/>
<ellipse cx="598.2" cy="96.4" rx="1.5" ry="1.65" fill="#555555"/>
<ellipse cx="598.2" cy="98.1" rx="1.5" ry="1.65" fill="#555555"/>
<ellipse cx="598.2" cy="99.8" rx="1.5" ry="1.65" fill="#555555"/>
<ellipse cx="598.2" cy="101.5" rx="1.5" ry="1.65" fill="#555555"/>
<ellipse cx="591.9" cy="95.9" rx="1.5" ry="1.65" fill="#555555"/>
<ellipse cx="591.9" cy="97.6" rx="1.5" ry="1.65" fill="#555555"/>
<ellipse cx="591.9" cy="99.3" rx="1.5" ry="1.65" fill="#555555"/>
<ellipse cx="591.9" cy="101.0" rx="1.5" ry="1.65" fill="#555555"/>
<ellipse cx="605.5" cy="88.0" rx="1.5" ry="1.65" fill="#969696"/>
<ellipse cx="605.5" cy="89.7" rx="1.5" ry="1.65" fill="#969696"/>
<ellipse cx="605.5" cy="91.4" rx="1.5" ry="1.65" fill="#969696"/>
<ellipse cx="607.2" cy="81.2" rx="1.5" ry="1.65" fill="#969696"/>
<ellipse cx="607.2" cy="82.9" rx="1.5" ry="1.65" fill="#969696"/>
<ellipse cx="607.2" cy="84.6" rx="1.5" ry="1.65" fill="#969696"/>
<ellipse cx="607.2" cy="86.3" rx="1.5" ry="1.65" fill="#969696"/>
<ellipse cx="607.2" cy="88.0" rx="1.5" ry="1.65" fill="#969696"/>
<ellipse cx="607.2" cy="89.7" rx="1.5" ry="1.65" fill="#969696"/>
<ellipse cx="607.2" cy="91.4" rx="1.5" ry="1.65" fill="#969696"/>
<ellipse cx="611.8" cy="80.4" rx="1.5" ry="1.65" fill="#969696"/>
<ellipse cx="611.8" cy="82.1" rx="1.5" ry="1.65" fill="#969696"/>
<ellipse cx="611.8" cy="83.8" rx="1.5" ry="1.65" fill="#969696"/>
<ellipse cx="611.8" cy="85.5" rx="1.5" ry="1.65" fill="#969696"/>
<ellipse cx="611.8" cy="87.2" rx="1.5" ry="1.65" fill="#969696"/>
<ellipse cx="611.8" cy="88.9" rx="1.5" ry="1.65" fill="#969696"/>
<ellipse cx="611.8" cy="90.6" rx="1.5" ry="1.65" fill="#969696"/>
<ellipse cx="608.0" cy="96.5" rx="1.5" ry="1.65" fill="#969696"/>
<ellipse cx="612.5" cy="95.5" rx="1.5" ry="1.65" fill="#969696"/>
<ellipse cx="616.4" cy="87.5" rx="1.5" ry="1.65" fill="#969696"/>
<ellipse cx="619.7" cy="91.0" rx="1.5" ry="1.65" fill="#969696"/>
<ellipse cx="627.4" cy="87.2" rx="1.5" ry="1.65" fill="#555555"/>
<ellipse cx="644.4" cy="94.5" rx="1.5" ry="1.65" fill="#969696"/>
<ellipse cx="647.5" cy="93.1" rx="1.5" ry="1.65" fill="#969696"/>
<ellipse cx="651.4" cy="87.5" rx="1.5" ry="1.65" fill="#555555"/>
<ellipse cx="651.4" cy="89.2" rx="1.5" ry="1.65" fill="#555555"/>
<ellipse cx="651.4" cy="90.9" rx="1.5" ry="1.65" fill="#555555"/>
<ellipse cx="651.4" cy="92.6" rx="1.5" ry="1.65" fill="#555555"/>
<ellipse cx="651.4" cy="94.3" rx="1.5" ry="1.65" fill="#555555"/>
<ellipse cx="651.4" cy="96.0" rx="1.5" ry="1.65" fill="#555555"/>
<ellipse cx="651.4" cy="97.7" rx="1.5" ry="1.65" fill="#555555"/>
<ellipse cx="651.4" cy="99.4" rx="1.5" ry="1.65" fill="#555555"/>
<ellipse cx="654.9" cy="83.3" rx="1.5" ry="1.65" fill="#555555"/>
<ellipse cx="654.9" cy="87.5" rx="1.5" ry="1.65" fill="#555555"/>
<ellipse cx="659.8" cy="83.3" rx="1.5" ry="1.65" fill="#969696"/>
<ellipse cx="659.8" cy="93.8" rx="1.5" ry="1.65" fill="#969696"/>
<line x1="25" y1="72.4" x2="672.8" y2="72.4" stroke="#ff0000" stroke-opacity="0.7" stroke-width="1.5"/>
<line x1="25" y1="96.9" x2="672.8" y2="96.9" stroke="#0000ff" stroke-opacity="0.5" stroke-width="2"/>
<line x1="24.9" y1="16.2" x2="24.9" y2="138.6" stroke="#8c8c8c" stroke-width="1.8"/>
<line x1="23.1" y1="22.3" x2="24.7" y2="22.3" stroke="#333" stroke-width="0.7"/>
<line x1="23.1" y1="55.6" x2="24.7" y2="55.6" stroke="#333" stroke-width="0.7"/>
<line x1="23.1" y1="97.0" x2="24.7" y2="97.0" stroke="#333" stroke-width="0.7"/>
<line x1="23.1" y1="138.4" x2="24.7" y2="138.4" stroke="#333" stroke-width="0.7"/>
<line x1="62.4" y1="137.9" x2="62.4" y2="140.3" stroke="#222" stroke-width="0.9"/>
<line x1="117.9" y1="137.9" x2="117.9" y2="140.3" stroke="#222" stroke-width="0.9"/>
<line x1="167.6" y1="137.9" x2="167.6" y2="140.3" stroke="#222" stroke-width="0.9"/>
<line x1="211.7" y1="137.9" x2="211.7" y2="140.3" stroke="#222" stroke-width="0.9"/>
<line x1="253.5" y1="137.9" x2="253.5" y2="140.3" stroke="#222" stroke-width="0.9"/>
<line x1="293.5" y1="137.9" x2="293.5" y2="140.3" stroke="#222" stroke-width="0.9"/>
<line x1="330.4" y1="137.9" x2="330.4" y2="140.3" stroke="#222" stroke-width="0.9"/>
<line x1="365.3" y1="137.9" x2="365.3" y2="140.3" stroke="#222" stroke-width="0.9"/>
<line x1="397.6" y1="137.9" x2="397.6" y2="140.3" stroke="#222" stroke-width="0.9"/>
<line x1="427.8" y1="137.9" x2="427.8" y2="140.3" stroke="#222" stroke-width="0.9"/>
<line x1="458.2" y1="137.9" x2="458.2" y2="140.3" stroke="#222" stroke-width="0.9"/>
<line x1="488.4" y1="137.9" x2="488.4" y2="140.3" stroke="#222" stroke-width="0.9"/>
<line x1="514.3" y1="137.9" x2="514.3" y2="140.3" stroke="#222" stroke-width="0.9"/>
<line x1="535.0" y1="137.9" x2="535.0" y2="140.3" stroke="#222" stroke-width="0.9"/>
<line x1="554.1" y1="137.9" x2="554.1" y2="140.3" stroke="#222" stroke-width="0.9"/>
<line x1="573.2" y1="137.9" x2="573.2" y2="140.3" stroke="#222" stroke-width="0.9"/>
<line x1="592.5" y1="137.9" x2="592.5" y2="140.3" stroke="#222" stroke-width="0.9"/>
<line x1="611.2" y1="137.9" x2="611.2" y2="140.3" stroke="#222" stroke-width="0.9"/>
<line x1="626.5" y1="137.9" x2="626.5" y2="140.3" stroke="#222" stroke-width="0.9"/>
<line x1="640.6" y1="137.9" x2="640.6" y2="140.3" stroke="#222" stroke-width="0.9"/>
<line x1="651.5" y1="137.9" x2="651.5" y2="140.3" stroke="#222" stroke-width="0.9"/>
<line x1="659.3" y1="137.9" x2="659.3" y2="140.3" stroke="#222" stroke-width="0.9"/>
<line x1="20.4" y1="171.4" x2="20.4" y2="307.7" stroke="#222" stroke-width="1"/>
<line x1="19.9" y1="307.2" x2="339" y2="307.2" stroke="#222" stroke-width="1"/>
<line x1="20.47" y1="301.25" x2="339" y2="301.25" stroke="#111" stroke-width="1" stroke-dasharray="2.66 2.463"/>
<line x1="18.8" y1="177.1" x2="20.4" y2="177.1" stroke="#333" stroke-width="0.7"/>
<line x1="18.8" y1="211.6" x2="20.4" y2="211.6" stroke="#333" stroke-width="0.7"/>
<line x1="18.8" y1="246.1" x2="20.4" y2="246.1" stroke="#333" stroke-width="0.7"/>
<line x1="18.8" y1="280.6" x2="20.4" y2="280.6" stroke="#333" stroke-width="0.7"/>
<line x1="179.8" y1="307.2" x2="179.8" y2="308.8" stroke="#333" stroke-width="0.7"/>
<g stroke="#F8766D" stroke-opacity="0.65" stroke-width="1.3" fill="none"><line x1="59.9" y1="276.8" x2="108.0" y2="276.8"/><line x1="59.9" y1="291.4" x2="108.0" y2="291.4"/><line x1="84.2" y1="276.8" x2="84.2" y2="291.4"/></g>
<circle cx="84.2" cy="284.8" r="1.35" fill="#F8766D"/>
<g stroke="#A3A500" stroke-opacity="0.65" stroke-width="1.3" fill="none"><line x1="108.0" y1="277.4" x2="156.2" y2="277.4"/><line x1="108.0" y1="295.8" x2="156.2" y2="295.8"/><line x1="131.8" y1="277.4" x2="131.8" y2="295.8"/></g>
<circle cx="131.8" cy="288.0" r="1.35" fill="#A3A500"/>
<g stroke="#00BF7D" stroke-opacity="0.65" stroke-width="1.3" fill="none"><line x1="156.2" y1="280.5" x2="203.3" y2="280.5"/><line x1="156.2" y1="295.5" x2="203.3" y2="295.5"/><line x1="179.5" y1="280.5" x2="179.5" y2="295.5"/></g>
<circle cx="179.5" cy="289.2" r="1.35" fill="#00BF7D"/>
<g stroke="#00B0F6" stroke-opacity="0.65" stroke-width="1.3" fill="none"><line x1="203.5" y1="237.2" x2="251.2" y2="237.2"/><line x1="203.5" y1="267.1" x2="251.2" y2="267.1"/><line x1="227.3" y1="237.2" x2="227.3" y2="267.1"/></g>
<circle cx="227.3" cy="254.1" r="1.35" fill="#00B0F6"/>
<g stroke="#E76BF3" stroke-opacity="0.65" stroke-width="1.3" fill="none"><line x1="251.3" y1="177.6" x2="299.1" y2="177.6"/><line x1="251.3" y1="229.3" x2="299.1" y2="229.3"/><line x1="275.5" y1="177.6" x2="275.5" y2="229.3"/></g>
<circle cx="275.5" cy="206.5" r="1.35" fill="#E76BF3"/>
<line x1="356.8" y1="171.5" x2="356.8" y2="307.7" stroke="#8c8c8c" stroke-width="2"/>
<line x1="356.2" y1="307.2" x2="638.6" y2="307.2" stroke="#222" stroke-width="1"/>
<line x1="356.77" y1="284.3" x2="637" y2="284.3" stroke="#111" stroke-width="1" stroke-dasharray="2.72 2.498"/>
<line x1="355.1" y1="284.3" x2="356.7" y2="284.3" stroke="#333" stroke-width="0.7"/>
<line x1="355.1" y1="256.3" x2="356.7" y2="256.3" stroke="#333" stroke-width="0.7"/>
<line x1="355.1" y1="228.4" x2="356.7" y2="228.4" stroke="#333" stroke-width="0.7"/>
<line x1="355.1" y1="200.4" x2="356.7" y2="200.4" stroke="#333" stroke-width="0.7"/>
<line x1="355.1" y1="172.4" x2="356.7" y2="172.4" stroke="#333" stroke-width="0.7"/>
<line x1="433.3" y1="307.2" x2="433.3" y2="308.8" stroke="#333" stroke-width="0.7"/>
<line x1="561.6" y1="307.2" x2="561.6" y2="308.8" stroke="#333" stroke-width="0.7"/>
<g stroke="#F8766D" stroke-opacity="0.65" stroke-width="1.3" fill="none"><line x1="376.1" y1="269.4" x2="399.1" y2="269.4"/><line x1="376.1" y1="299.6" x2="399.1" y2="299.6"/><line x1="387.5" y1="269.4" x2="387.5" y2="299.6"/></g>
<circle cx="387.5" cy="289.5" r="1.35" fill="#F8766D"/>
<g stroke="#A3A500" stroke-opacity="0.65" stroke-width="1.3" fill="none"><line x1="399.1" y1="257.8" x2="421.9" y2="257.8"/><line x1="399.1" y1="295.0" x2="421.9" y2="295.0"/><line x1="410.5" y1="257.8" x2="410.5" y2="295.0"/></g>
<circle cx="410.5" cy="281.4" r="1.35" fill="#A3A500"/>
<g stroke="#00BF7D" stroke-opacity="0.65" stroke-width="1.3" fill="none"><line x1="422.1" y1="239.8" x2="445.1" y2="239.8"/><line x1="422.1" y1="286.9" x2="445.1" y2="286.9"/><line x1="433.5" y1="239.8" x2="433.5" y2="286.9"/></g>
<circle cx="433.5" cy="269.4" r="1.35" fill="#00BF7D"/>
<g stroke="#00B0F6" stroke-opacity="0.65" stroke-width="1.3" fill="none"><line x1="445.1" y1="199.1" x2="468.3" y2="199.1"/><line x1="445.1" y1="273.1" x2="468.3" y2="273.1"/><line x1="456.7" y1="199.1" x2="456.7" y2="273.1"/></g>
<circle cx="456.7" cy="245.8" r="1.35" fill="#00B0F6"/>
<g stroke="#E76BF3" stroke-opacity="0.65" stroke-width="1.3" fill="none"><line x1="468.4" y1="177.4" x2="491.0" y2="177.4"/><line x1="468.4" y1="265.0" x2="491.0" y2="265.0"/><line x1="479.6" y1="177.4" x2="479.6" y2="265.0"/></g>
<circle cx="479.6" cy="233.0" r="1.35" fill="#E76BF3"/>
<g stroke="#F8766D" stroke-opacity="0.65" stroke-width="1.3" fill="none"><line x1="504.1" y1="246.4" x2="527.1" y2="246.4"/><line x1="504.1" y1="288.6" x2="527.1" y2="288.6"/><line x1="515.5" y1="246.4" x2="515.5" y2="288.6"/></g>
<circle cx="515.5" cy="273.1" r="1.35" fill="#F8766D"/>
<g stroke="#A3A500" stroke-opacity="0.65" stroke-width="1.3" fill="none"><line x1="527.2" y1="275.0" x2="550.0" y2="275.0"/><line x1="527.2" y1="301.2" x2="550.0" y2="301.2"/><line x1="538.6" y1="275.0" x2="538.6" y2="301.2"/></g>
<circle cx="538.6" cy="292.0" r="1.35" fill="#A3A500"/>
<g stroke="#00BF7D" stroke-opacity="0.65" stroke-width="1.3" fill="none"><line x1="550.0" y1="254.6" x2="573.1" y2="254.6"/><line x1="550.0" y1="292.5" x2="573.1" y2="292.5"/><line x1="561.5" y1="254.6" x2="561.5" y2="292.5"/></g>
<circle cx="561.5" cy="278.7" r="1.35" fill="#00BF7D"/>
<g stroke="#00B0F6" stroke-opacity="0.65" stroke-width="1.3" fill="none"><line x1="573.1" y1="249.4" x2="596.0" y2="249.4"/><line x1="573.1" y1="292.5" x2="596.0" y2="292.5"/><line x1="584.7" y1="249.4" x2="584.7" y2="292.5"/></g>
<circle cx="584.7" cy="276.7" r="1.35" fill="#00B0F6"/>
<g stroke="#E76BF3" stroke-opacity="0.65" stroke-width="1.3" fill="none"><line x1="596.6" y1="233.8" x2="618.7" y2="233.8"/><line x1="596.6" y1="288.2" x2="618.7" y2="288.2"/><line x1="607.8" y1="233.8" x2="607.8" y2="288.2"/></g>
<circle cx="607.8" cy="268.8" r="1.35" fill="#E76BF3"/>
<line x1="649.7" y1="221.9" x2="657.4" y2="221.9" stroke="#F8766D" stroke-opacity="0.65" stroke-width="1.3"/>
<circle cx="653.6" cy="221.9" r="1.35" fill="#F8766D"/>
<line x1="649.7" y1="232.4" x2="657.4" y2="232.4" stroke="#A3A500" stroke-opacity="0.65" stroke-width="1.3"/>
<circle cx="653.6" cy="232.4" r="1.35" fill="#A3A500"/>
<line x1="649.7" y1="243.4" x2="657.4" y2="243.4" stroke="#00BF7D" stroke-opacity="0.65" stroke-width="1.3"/>
<circle cx="653.6" cy="243.4" r="1.35" fill="#00BF7D"/>
<line x1="649.7" y1="253.7" x2="657.4" y2="253.7" stroke="#00B0F6" stroke-opacity="0.65" stroke-width="1.3"/>
<circle cx="653.6" cy="253.7" r="1.35" fill="#00B0F6"/>
<line x1="649.7" y1="264.6" x2="657.4" y2="264.6" stroke="#E76BF3" stroke-opacity="0.65" stroke-width="1.3"/>
<circle cx="653.6" cy="264.6" r="1.35" fill="#E76BF3"/>
<g filter="url(#sb)">
<text transform="translate(21.90,24.035) scale(1,1.160)" font-size="4.10" text-anchor="end" fill="#5a5a5a">14</text>
<text transform="translate(21.90,57.335) scale(1,1.160)" font-size="4.10" text-anchor="end" fill="#5a5a5a">10</text>
<text transform="translate(21.90,98.735) scale(1,1.160)" font-size="4.10" text-anchor="end" fill="#5a5a5a">5</text>
<text transform="translate(21.90,140.135) scale(1,1.160)" font-size="4.10" text-anchor="end" fill="#5a5a5a">0</text>
<text transform="translate(62.40,145.235) scale(1,1.160)" font-size="4.10" text-anchor="middle" fill="#5a5a5a">1</text>
<text transform="translate(117.90,145.235) scale(1,1.160)" font-size="4.10" text-anchor="middle" fill="#5a5a5a">2</text>
<text transform="translate(167.60,145.235) scale(1,1.160)" font-size="4.10" text-anchor="middle" fill="#5a5a5a">3</text>
<text transform="translate(211.70,145.235) scale(1,1.160)" font-size="4.10" text-anchor="middle" fill="#5a5a5a">4</text>
<text transform="translate(253.50,145.235) scale(1,1.160)" font-size="4.10" text-anchor="middle" fill="#5a5a5a">5</text>
<text transform="translate(293.50,145.235) scale(1,1.160)" font-size="4.10" text-anchor="middle" fill="#5a5a5a">6</text>
<text transform="translate(330.40,145.235) scale(1,1.160)" font-size="4.10" text-anchor="middle" fill="#5a5a5a">7</text>
<text transform="translate(365.30,145.235) scale(1,1.160)" font-size="4.10" text-anchor="middle" fill="#5a5a5a">8</text>
<text transform="translate(397.60,145.235) scale(1,1.160)" font-size="4.10" text-anchor="middle" fill="#5a5a5a">9</text>
<text transform="translate(427.80,145.235) scale(1,1.160)" font-size="4.10" text-anchor="middle" fill="#5a5a5a">10</text>
<text transform="translate(458.20,145.235) scale(1,1.160)" font-size="4.10" text-anchor="middle" fill="#5a5a5a">11</text>
<text transform="translate(488.40,145.235) scale(1,1.160)" font-size="4.10" text-anchor="middle" fill="#5a5a5a">12</text>
<text transform="translate(514.30,145.235) scale(1,1.160)" font-size="4.10" text-anchor="middle" fill="#5a5a5a">13</text>
<text transform="translate(535.00,145.235) scale(1,1.160)" font-size="4.10" text-anchor="middle" fill="#5a5a5a">14</text>
<text transform="translate(554.10,145.235) scale(1,1.160)" font-size="4.10" text-anchor="middle" fill="#5a5a5a">15</text>
<text transform="translate(573.20,145.235) scale(1,1.160)" font-size="4.10" text-anchor="middle" fill="#5a5a5a">16</text>
<text transform="translate(592.50,145.235) scale(1,1.160)" font-size="4.10" text-anchor="middle" fill="#5a5a5a">17</text>
<text transform="translate(611.20,145.235) scale(1,1.160)" font-size="4.10" text-anchor="middle" fill="#5a5a5a">18</text>
<text transform="translate(626.50,145.235) scale(1,1.160)" font-size="4.10" text-anchor="middle" fill="#5a5a5a">19</text>
<text transform="translate(640.60,145.235) scale(1,1.160)" font-size="4.10" text-anchor="middle" fill="#5a5a5a">20</text>
<text transform="translate(651.50,145.235) scale(1,1.160)" font-size="4.10" text-anchor="middle" fill="#5a5a5a">21</text>
<text transform="translate(659.30,145.235) scale(1,1.160)" font-size="4.10" text-anchor="middle" fill="#5a5a5a">22</text>
<text transform="translate(348.70,153.149) scale(1,1.160)" font-size="4.35" text-anchor="middle" fill="#111">Chromosome</text>
<text transform="translate(11.2,86.6) rotate(-90) translate(0,0.246) scale(1,1.160)" font-size="4.3" fill="#111">- log<tspan font-size="3" dy="0.6">10</tspan><tspan dy="-0.6" font-weight="bold"> (P)</tspan></text>
<text transform="translate(1.70,2.946) scale(1,1.160)" font-size="4.30" font-weight="bold" fill="#111">A</text>
<text transform="translate(98.50,67.943) scale(1,1.160)" font-size="4.25" font-style="italic" text-anchor="middle" fill="#8a8a8a">FAM49A</text>
<text transform="translate(145.70,43.443) scale(1,1.160)" font-size="4.25" font-style="italic" text-anchor="middle" fill="#3a3a3a">CNTN4</text>
<text transform="translate(256.20,18.243) scale(1,1.160)" font-size="4.25" font-style="italic" text-anchor="middle" fill="#3a3a3a">FAM174A</text>
<text transform="translate(381.50,63.243) scale(1,1.160)" font-size="4.25" font-style="italic" text-anchor="middle" fill="#3a3a3a">ZNG1A</text>
<text transform="translate(455.80,56.243) scale(1,1.160)" font-size="4.25" font-style="italic" text-anchor="middle" fill="#3a3a3a">SLC37A4</text>
<text transform="translate(503.40,68.043) scale(1,1.160)" font-size="4.25" font-style="italic" text-anchor="middle" fill="#8a8a8a">TMEM132D</text>
<text transform="translate(545.80,70.243) scale(1,1.160)" font-size="4.25" font-style="italic" text-anchor="middle" fill="#3a3a3a">NDN</text>
<text transform="translate(1.80,166.046) scale(1,1.160)" font-size="4.30" font-weight="bold" fill="#111">B</text>
<text transform="translate(20.20,167.646) scale(1,1.160)" font-size="4.30" fill="#111">Combined (N=4,200)</text>
<text transform="translate(17.40,178.826) scale(1,1.160)" font-size="3.95" text-anchor="end" fill="#5a5a5a">10.0</text>
<text transform="translate(17.40,213.326) scale(1,1.160)" font-size="3.95" text-anchor="end" fill="#5a5a5a">7.5</text>
<text transform="translate(17.40,247.826) scale(1,1.160)" font-size="3.95" text-anchor="end" fill="#5a5a5a">5.0</text>
<text transform="translate(17.40,282.326) scale(1,1.160)" font-size="3.95" text-anchor="end" fill="#5a5a5a">2.5</text>
<text transform="translate(6.75,239.50) rotate(-90) translate(0,0.246) scale(1,1.160)" font-size="4.30" text-anchor="middle" fill="#111">OR</text>
<text transform="translate(180.10,313.546) scale(1,1.160)" font-size="4.30" text-anchor="middle" fill="#5a5a5a">AFR (ADMIRAL, GWS meta-analysis)</text>
<text transform="translate(179.80,318.838) scale(1,1.160)" font-size="4.15" font-weight="bold" text-anchor="middle" fill="#111">PRS type</text>
<text transform="translate(343.80,165.446) scale(1,1.160)" font-size="4.30" font-weight="bold" fill="#111">C</text>
<text transform="translate(357.00,167.651) scale(1,1.160)" font-size="4.38" fill="#111">Non-COG replication (N=620)</text>
<text transform="translate(353.40,286.029) scale(1,1.160)" font-size="4.00" text-anchor="end" fill="#5a5a5a">1</text>
<text transform="translate(353.40,258.059) scale(1,1.160)" font-size="4.00" text-anchor="end" fill="#5a5a5a">2</text>
<text transform="translate(353.40,230.089) scale(1,1.160)" font-size="4.00" text-anchor="end" fill="#5a5a5a">3</text>
<text transform="translate(353.40,202.119) scale(1,1.160)" font-size="4.00" text-anchor="end" fill="#5a5a5a">4</text>
<text transform="translate(353.40,174.149) scale(1,1.160)" font-size="4.00" text-anchor="end" fill="#5a5a5a">5</text>
<text transform="translate(348.70,239.40) rotate(-90) translate(0,0.246) scale(1,1.160)" font-size="4.30" text-anchor="middle" fill="#111">OR</text>
<text transform="translate(433.60,313.847) scale(1,1.160)" font-size="4.32" text-anchor="middle" fill="#5a5a5a">AFR (ADMIRAL, discovery)</text>
<text transform="translate(562.00,313.449) scale(1,1.160)" font-size="4.35" text-anchor="middle" fill="#5a5a5a">EUR (Vijayakrishnan et al.)</text>
<text transform="translate(498.00,319.127) scale(1,1.160)" font-size="3.96" font-weight="bold" text-anchor="middle" fill="#111">PRS type, omitting shared loci</text>
<text transform="translate(649.30,213.135) scale(1,1.160)" font-size="4.10" fill="#111">PRS deciles</text>
<text transform="translate(662.40,223.705) scale(1,1.160)" font-size="4.45" fill="#5a5a5a">50-59%</text>
<text transform="translate(662.40,234.205) scale(1,1.160)" font-size="4.45" fill="#5a5a5a">60-69%</text>
<text transform="translate(662.40,245.205) scale(1,1.160)" font-size="4.45" fill="#5a5a5a">70-79%</text>
<text transform="translate(662.40,255.505) scale(1,1.160)" font-size="4.45" fill="#5a5a5a">80-89%</text>
<text transform="translate(662.40,266.405) scale(1,1.160)" font-size="4.45" fill="#5a5a5a">90%+</text>
</g>
</svg>
</body></html>
